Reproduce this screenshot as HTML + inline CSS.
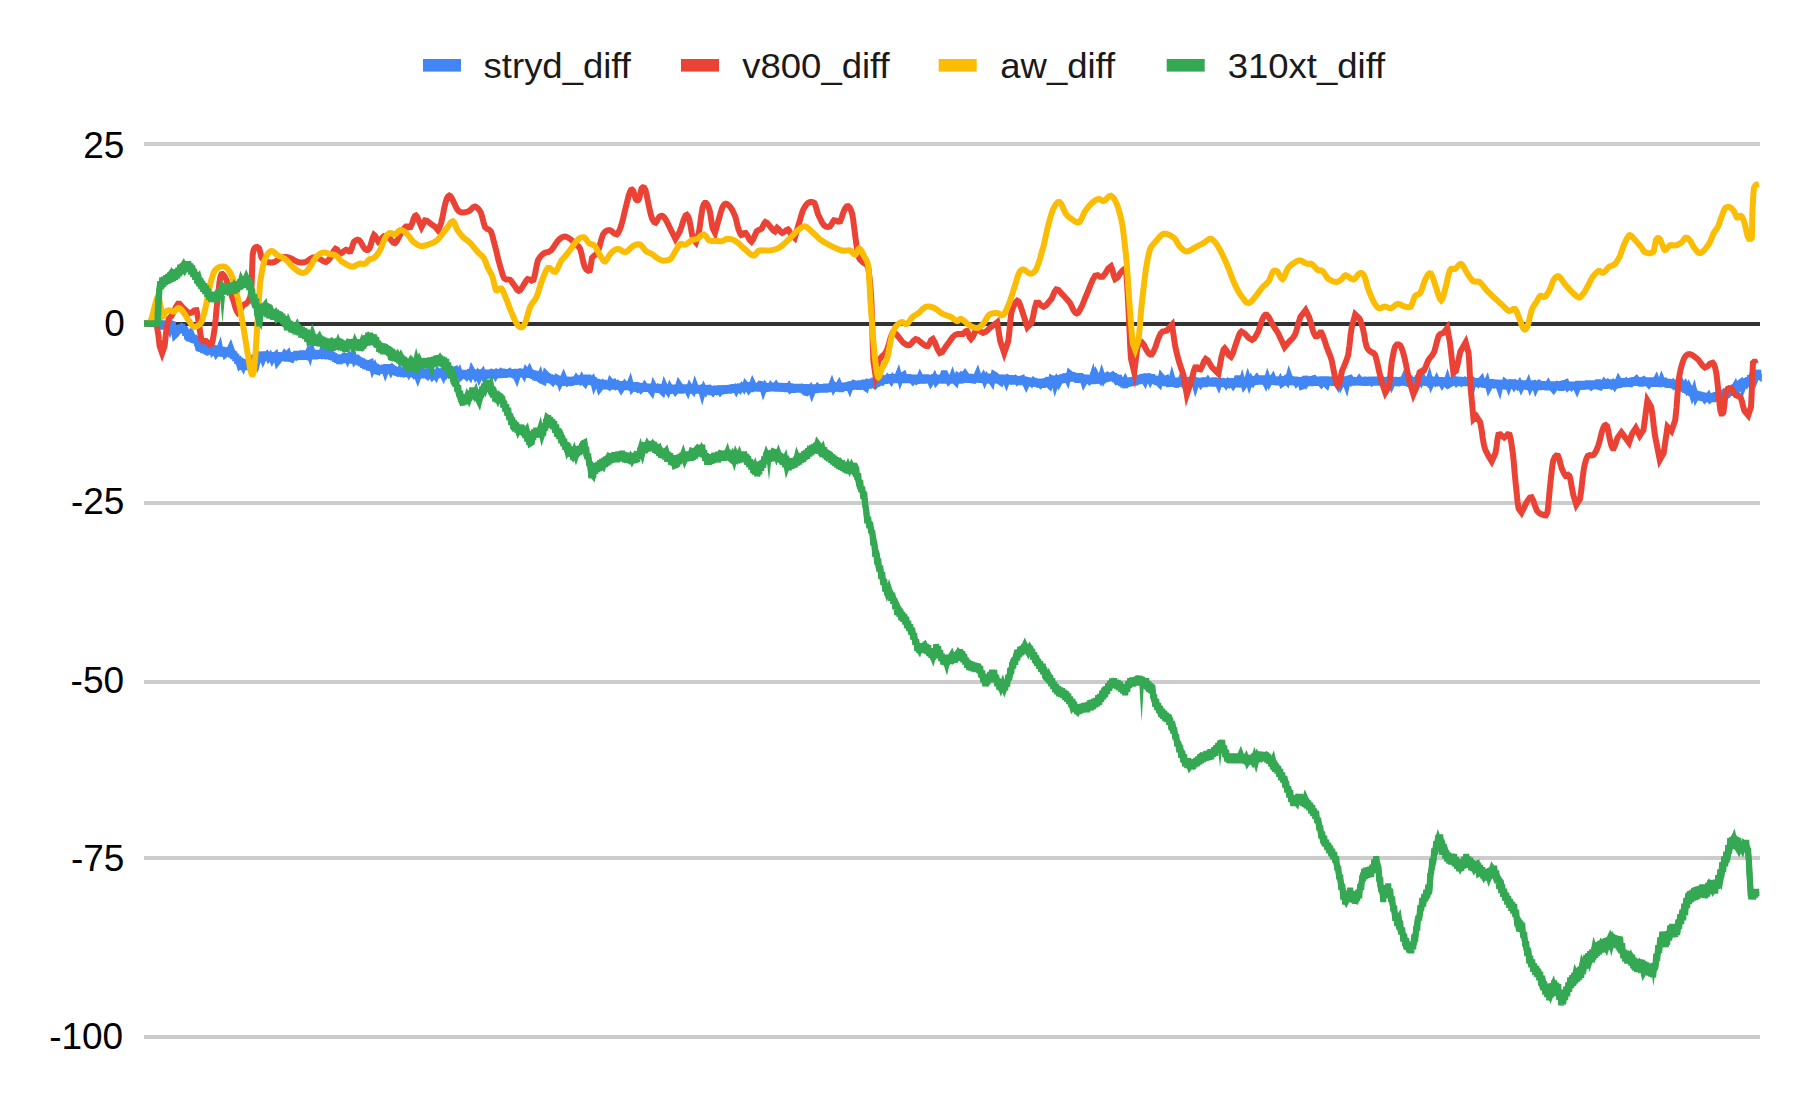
<!DOCTYPE html>
<html><head><meta charset="utf-8"><title>chart</title>
<style>
html,body{margin:0;padding:0;background:#fff;}
body{width:1794px;height:1093px;overflow:hidden;font-family:"Liberation Sans",sans-serif;}
text{font-family:"Liberation Sans",sans-serif;}
.ax{font-size:37px;fill:#000000;}
.lg{font-size:35.4px;fill:#1a1a1a;}
</style></head><body>
<svg width="1794" height="1093" viewBox="0 0 1794 1093" style="display:block">
<rect x="0" y="0" width="1794" height="1093" fill="#ffffff"/>
<rect x="144" y="142" width="1616" height="4" fill="#cccccc"/>
<rect x="144" y="322" width="1616" height="4" fill="#333333"/>
<rect x="144" y="501" width="1616" height="4" fill="#cccccc"/>
<rect x="144" y="680" width="1616" height="4" fill="#cccccc"/>
<rect x="144" y="856" width="1616" height="4" fill="#cccccc"/>
<rect x="144" y="1035" width="1616" height="4" fill="#cccccc"/>
<text x="124.4" y="158.2" text-anchor="end" class="ax">25</text>
<text x="124.9" y="335.5" text-anchor="end" class="ax">0</text>
<text x="124.4" y="513.9" text-anchor="end" class="ax">-25</text>
<text x="124.1" y="692.6" text-anchor="end" class="ax">-50</text>
<text x="124.4" y="870.8" text-anchor="end" class="ax">-75</text>
<text x="123.2" y="1049" text-anchor="end" class="ax">-100</text>
<rect x="423" y="59" width="38" height="12.6" fill="#4285f4"/>
<text transform="translate(483.6,77.8) scale(1.031,1)" x="0" y="0" class="lg">stryd_diff</text>
<rect x="681" y="59" width="38" height="12.6" fill="#ea4335"/>
<text transform="translate(742.3,77.8) scale(1.031,1)" x="0" y="0" class="lg">v800_diff</text>
<rect x="938.7" y="59" width="38" height="12.6" fill="#fbbc04"/>
<text transform="translate(1000.3,77.8) scale(1.031,1)" x="0" y="0" class="lg">aw_diff</text>
<rect x="1166.7" y="59" width="38" height="12.6" fill="#34a853"/>
<text transform="translate(1227.7,77.8) scale(1.031,1)" x="0" y="0" class="lg">310xt_diff</text>
<polyline fill="none" stroke="#4285f4" stroke-width="6" stroke-linejoin="miter" stroke-miterlimit="1" points="144.2,323.5 145.2,323.5 146.2,323.6 147.2,323.6 148.2,323.7 149.2,323.7 150.2,323.8 151.2,323.8 152.2,323.8 153.2,323.9 154.2,323.9 155.2,324.0 156.2,324.0 157.2,324.2 158.2,324.4 159.2,324.5 160.2,320.3 161.2,329.3 162.2,321.0 163.2,329.1 164.2,321.7 165.2,329.2 166.2,321.9 167.2,329.9 168.2,322.4 169.2,330.2 170.2,323.2 171.2,332.5 172.2,325.0 173.2,334.0 174.2,326.7 175.2,334.5 176.2,326.4 177.2,333.4 178.2,325.5 179.2,332.7 180.2,324.8 181.2,332.4 182.2,324.1 183.2,333.1 184.2,326.4 185.2,335.6 186.2,329.6 187.2,339.3 188.2,332.8 189.2,341.2 190.2,332.8 191.2,341.6 192.2,334.5 193.2,342.6 194.2,335.2 195.2,343.1 196.2,336.2 197.2,346.0 198.2,339.5 199.2,349.0 200.2,342.1 201.2,351.6 202.2,344.7 203.2,352.8 204.2,344.7 205.2,352.7 206.2,345.1 207.2,353.3 208.2,345.1 209.2,353.2 210.2,345.2 211.2,354.2 212.2,345.3 213.2,353.5 214.2,345.6 215.2,354.0 216.2,345.8 217.2,355.3 218.2,346.9 219.2,354.8 220.2,346.8 221.2,355.3 222.2,347.2 223.2,355.2 224.2,347.9 225.2,355.6 226.2,347.6 227.2,356.0 228.2,348.4 229.2,356.3 230.2,348.2 231.2,357.3 232.2,350.0 233.2,359.0 234.2,351.5 235.2,361.0 236.2,354.1 237.2,363.6 238.2,356.4 239.2,365.2 240.2,357.7 241.2,367.1 242.2,359.6 243.2,368.0 244.2,361.3 245.2,369.8 246.2,361.7 247.2,368.8 248.2,359.9 249.2,366.9 250.2,358.2 251.2,365.2 252.2,356.7 253.2,364.1 254.2,354.9 255.2,362.3 256.2,353.4 257.2,360.6 258.2,353.1 259.2,360.4 260.2,352.1 261.2,360.4 262.2,351.9 263.2,360.1 264.2,351.7 265.2,359.7 266.2,351.7 267.2,360.0 268.2,352.3 269.2,359.8 270.2,352.5 271.2,360.2 272.2,352.7 273.2,360.2 274.2,352.7 275.2,360.3 276.2,352.8 277.2,360.7 278.2,352.3 279.2,360.8 280.2,353.1 281.2,360.7 282.2,353.2 283.2,360.8 284.2,352.9 285.2,360.4 286.2,352.1 287.2,361.4 288.2,352.3 289.2,360.1 290.2,352.5 291.2,360.0 292.2,352.4 293.2,360.1 294.2,352.4 295.2,359.9 296.2,351.2 297.2,359.7 298.2,352.0 299.2,359.5 300.2,352.0 301.2,359.3 302.2,350.7 303.2,359.3 304.2,351.3 305.2,359.5 306.2,351.5 307.2,359.1 308.2,350.9 309.2,359.2 310.2,350.3 311.2,358.4 312.2,350.8 313.2,358.4 314.2,350.2 315.2,359.2 316.2,350.1 317.2,358.6 318.2,350.4 319.2,358.7 320.2,350.8 321.2,358.7 322.2,350.9 323.2,358.3 324.2,350.7 325.2,358.4 326.2,351.1 327.2,359.2 328.2,350.8 329.2,358.7 330.2,350.2 331.2,359.8 332.2,352.1 333.2,360.4 334.2,353.5 335.2,361.6 336.2,354.5 337.2,362.6 338.2,354.8 339.2,363.8 340.2,355.3 341.2,363.1 342.2,354.7 343.2,362.9 344.2,354.1 345.2,362.1 346.2,353.7 347.2,362.2 348.2,354.7 349.2,362.6 350.2,354.6 351.2,363.2 352.2,354.9 353.2,363.4 354.2,355.1 355.2,363.0 356.2,354.9 357.2,364.3 358.2,356.9 359.2,365.1 360.2,357.9 361.2,366.1 362.2,358.5 363.2,367.6 364.2,359.9 365.2,368.9 366.2,360.8 367.2,369.3 368.2,362.0 369.2,370.4 370.2,362.9 371.2,370.6 372.2,363.0 373.2,371.3 374.2,363.2 375.2,372.1 376.2,364.1 377.2,372.9 378.2,365.5 379.2,373.5 380.2,366.1 381.2,373.6 382.2,365.7 383.2,373.5 384.2,365.4 385.2,373.0 386.2,364.4 387.2,372.9 388.2,364.4 389.2,372.6 390.2,364.5 391.2,373.6 392.2,365.3 393.2,374.4 394.2,366.5 395.2,374.8 396.2,367.9 397.2,375.6 398.2,368.5 399.2,376.4 400.2,368.2 401.2,376.3 402.2,368.8 403.2,376.8 404.2,369.0 405.2,376.9 406.2,368.8 407.2,376.8 408.2,368.3 409.2,376.6 410.2,368.8 411.2,377.0 412.2,369.5 413.2,377.2 414.2,369.7 415.2,377.7 416.2,369.2 417.2,377.7 418.2,369.8 419.2,377.9 420.2,370.1 421.2,378.2 422.2,369.8 423.2,377.9 424.2,370.0 425.2,378.0 426.2,369.4 427.2,378.0 428.2,370.3 429.2,378.8 430.2,370.2 431.2,377.9 432.2,369.5 433.2,378.2 434.2,370.5 435.2,378.0 436.2,370.0 437.2,377.7 438.2,369.5 439.2,377.0 440.2,368.7 441.2,376.6 442.2,368.6 443.2,376.8 444.2,367.9 445.2,375.9 446.2,367.7 447.2,375.1 448.2,366.9 449.2,376.1 450.2,368.0 451.2,376.9 452.2,368.2 453.2,376.4 454.2,368.1 455.2,376.5 456.2,369.2 457.2,377.3 458.2,369.4 459.2,377.3 460.2,370.1 461.2,378.1 462.2,370.6 463.2,377.9 464.2,370.1 465.2,378.0 466.2,370.2 467.2,377.9 468.2,370.2 469.2,378.2 470.2,369.3 471.2,378.4 472.2,370.3 473.2,379.1 474.2,370.3 475.2,378.0 476.2,369.8 477.2,378.0 478.2,370.6 479.2,378.1 480.2,369.6 481.2,378.3 482.2,370.4 483.2,378.2 484.2,369.9 485.2,378.7 486.2,369.9 487.2,378.1 488.2,370.5 489.2,377.9 490.2,370.4 491.2,378.3 492.2,369.5 493.2,378.2 494.2,369.8 495.2,378.2 496.2,369.5 497.2,378.0 498.2,369.3 499.2,377.8 500.2,369.7 501.2,377.4 502.2,368.9 503.2,377.5 504.2,369.8 505.2,377.3 506.2,369.4 507.2,377.0 508.2,369.5 509.2,377.1 510.2,369.3 511.2,376.9 512.2,369.4 513.2,377.1 514.2,369.5 515.2,377.1 516.2,369.1 517.2,376.6 518.2,369.3 519.2,376.6 520.2,369.3 521.2,376.6 522.2,369.2 523.2,377.0 524.2,369.0 525.2,376.9 526.2,368.9 527.2,376.7 528.2,369.5 529.2,377.6 530.2,369.3 531.2,377.7 532.2,370.3 533.2,378.6 534.2,370.7 535.2,380.0 536.2,371.3 537.2,380.1 538.2,372.1 539.2,380.5 540.2,372.5 541.2,380.6 542.2,373.2 543.2,380.9 544.2,373.1 545.2,381.6 546.2,374.2 547.2,381.9 548.2,373.8 549.2,382.5 550.2,374.5 551.2,383.0 552.2,375.4 553.2,383.2 554.2,375.7 555.2,383.8 556.2,376.0 557.2,384.1 558.2,376.4 559.2,385.1 560.2,376.2 561.2,384.2 562.2,377.0 563.2,385.6 564.2,377.1 565.2,385.0 566.2,377.0 567.2,384.8 568.2,377.1 569.2,385.1 570.2,377.7 571.2,385.5 572.2,377.1 573.2,384.6 574.2,376.8 575.2,384.5 576.2,376.7 577.2,383.9 578.2,376.4 579.2,383.9 580.2,375.6 581.2,383.5 582.2,375.8 583.2,383.6 584.2,375.3 585.2,383.5 586.2,374.8 587.2,382.5 588.2,374.9 589.2,382.9 590.2,376.1 591.2,384.6 592.2,376.3 593.2,385.2 594.2,377.7 595.2,386.4 596.2,379.1 597.2,387.9 598.2,379.9 599.2,388.4 600.2,379.9 601.2,388.1 602.2,380.6 603.2,389.1 604.2,380.1 605.2,388.8 606.2,380.8 607.2,389.1 608.2,381.2 609.2,388.6 610.2,381.0 611.2,389.0 612.2,380.7 613.2,389.3 614.2,380.9 615.2,389.1 616.2,381.1 617.2,389.5 618.2,381.7 619.2,389.0 620.2,381.6 621.2,389.9 622.2,381.4 623.2,389.2 624.2,382.0 625.2,389.5 626.2,382.2 627.2,389.8 628.2,381.9 629.2,389.7 630.2,382.4 631.2,390.1 632.2,382.6 633.2,391.3 634.2,382.4 635.2,390.2 636.2,382.3 637.2,390.5 638.2,383.2 639.2,391.2 640.2,383.3 641.2,390.9 642.2,383.4 643.2,391.3 644.2,383.8 645.2,391.6 646.2,384.0 647.2,391.4 648.2,383.9 649.2,391.7 650.2,384.1 651.2,392.4 652.2,384.5 653.2,392.3 654.2,384.3 655.2,392.2 656.2,384.8 657.2,392.4 658.2,384.9 659.2,392.6 660.2,384.0 661.2,392.6 662.2,384.6 663.2,392.5 664.2,384.6 665.2,393.6 666.2,384.8 667.2,392.5 668.2,384.9 669.2,393.6 670.2,385.0 671.2,393.0 672.2,384.8 673.2,392.9 674.2,384.9 675.2,392.5 676.2,384.9 677.2,392.9 678.2,384.6 679.2,392.9 680.2,385.1 681.2,393.5 682.2,385.1 683.2,392.4 684.2,384.6 685.2,392.4 686.2,384.8 687.2,392.5 688.2,385.0 689.2,392.9 690.2,385.0 691.2,393.5 692.2,384.6 693.2,392.7 694.2,385.4 695.2,393.0 696.2,385.0 697.2,393.3 698.2,385.4 699.2,393.3 700.2,385.5 701.2,393.5 702.2,385.3 703.2,393.2 704.2,385.7 705.2,393.7 706.2,386.2 707.2,393.6 708.2,385.5 709.2,394.1 710.2,386.1 711.2,394.8 712.2,386.5 713.2,394.1 714.2,386.3 715.2,393.9 716.2,385.8 717.2,394.7 718.2,385.8 719.2,394.2 720.2,385.6 721.2,394.2 722.2,385.5 723.2,393.4 724.2,385.9 725.2,393.2 726.2,385.6 727.2,393.3 728.2,385.5 729.2,393.3 730.2,385.2 731.2,392.5 732.2,384.8 733.2,392.3 734.2,384.4 735.2,392.0 736.2,384.4 737.2,392.5 738.2,384.1 739.2,391.6 740.2,384.0 741.2,391.7 742.2,383.6 743.2,391.3 744.2,383.7 745.2,391.2 746.2,383.4 747.2,391.9 748.2,383.3 749.2,390.9 750.2,382.4 751.2,391.8 752.2,383.4 753.2,391.0 754.2,383.6 755.2,391.1 756.2,383.6 757.2,391.1 758.2,383.7 759.2,391.3 760.2,382.8 761.2,391.3 762.2,383.7 763.2,391.4 764.2,383.2 765.2,391.2 766.2,383.4 767.2,391.2 768.2,383.3 769.2,391.1 770.2,383.4 771.2,391.0 772.2,383.0 773.2,390.9 774.2,383.5 775.2,391.2 776.2,383.7 777.2,391.4 778.2,383.4 779.2,391.4 780.2,383.0 781.2,391.5 782.2,384.0 783.2,391.4 784.2,383.4 785.2,391.6 786.2,383.8 787.2,391.9 788.2,384.4 789.2,391.6 790.2,383.6 791.2,392.5 792.2,384.1 793.2,392.7 794.2,384.3 795.2,392.0 796.2,384.6 797.2,392.2 798.2,384.1 799.2,392.2 800.2,384.2 801.2,392.5 802.2,384.6 803.2,393.0 804.2,384.6 805.2,392.5 806.2,384.3 807.2,392.6 808.2,385.0 809.2,393.4 810.2,384.8 811.2,392.6 812.2,384.8 813.2,392.5 814.2,384.5 815.2,392.8 816.2,384.8 817.2,392.3 818.2,384.3 819.2,392.2 820.2,384.6 821.2,392.3 822.2,384.7 823.2,392.0 824.2,384.5 825.2,392.3 826.2,383.8 827.2,391.9 828.2,384.0 829.2,391.9 830.2,384.3 831.2,391.8 832.2,383.4 833.2,391.5 834.2,384.0 835.2,391.3 836.2,383.2 837.2,391.1 838.2,383.5 839.2,391.1 840.2,383.1 841.2,391.8 842.2,383.4 843.2,390.6 844.2,382.9 845.2,390.7 846.2,382.8 847.2,390.3 848.2,382.4 849.2,390.5 850.2,382.0 851.2,389.5 852.2,381.7 853.2,389.3 854.2,381.7 855.2,389.2 856.2,381.4 857.2,389.5 858.2,381.0 859.2,389.6 860.2,380.7 861.2,388.1 862.2,380.7 863.2,388.4 864.2,379.9 865.2,388.6 866.2,380.0 867.2,387.7 868.2,379.7 869.2,388.4 870.2,379.6 871.2,386.8 872.2,378.8 873.2,386.4 874.2,377.9 875.2,386.3 876.2,378.1 877.2,386.5 878.2,377.4 879.2,384.9 880.2,376.8 881.2,385.3 882.2,376.8 883.2,383.8 884.2,376.0 885.2,383.6 886.2,375.5 887.2,383.0 888.2,375.3 889.2,382.3 890.2,374.7 891.2,382.4 892.2,374.5 893.2,382.0 894.2,374.5 895.2,382.1 896.2,374.3 897.2,382.8 898.2,374.7 899.2,382.6 900.2,374.4 901.2,382.3 902.2,374.2 903.2,383.0 904.2,374.9 905.2,382.7 906.2,375.0 907.2,382.4 908.2,374.4 909.2,382.8 910.2,375.2 911.2,382.6 912.2,375.1 913.2,382.5 914.2,375.0 915.2,382.7 916.2,375.3 917.2,383.6 918.2,375.2 919.2,383.0 920.2,374.8 921.2,382.8 922.2,375.4 923.2,383.5 924.2,375.4 925.2,383.1 926.2,374.7 927.2,382.8 928.2,375.0 929.2,383.2 930.2,375.6 931.2,382.9 932.2,375.6 933.2,383.4 934.2,374.4 935.2,383.1 936.2,375.3 937.2,383.0 938.2,375.0 939.2,382.9 940.2,375.2 941.2,382.8 942.2,375.2 943.2,383.4 944.2,375.0 945.2,383.3 946.2,375.0 947.2,382.8 948.2,375.1 949.2,382.9 950.2,375.2 951.2,382.6 952.2,374.9 953.2,383.1 954.2,375.1 955.2,382.5 956.2,374.4 957.2,382.4 958.2,374.4 959.2,383.4 960.2,373.9 961.2,383.1 962.2,374.9 963.2,382.3 964.2,374.4 965.2,382.4 966.2,374.7 967.2,382.5 968.2,374.7 969.2,382.5 970.2,374.2 971.2,382.4 972.2,374.7 973.2,382.9 974.2,374.6 975.2,382.2 976.2,374.6 977.2,382.4 978.2,374.4 979.2,382.3 980.2,374.9 981.2,382.5 982.2,375.0 983.2,382.6 984.2,374.4 985.2,383.1 986.2,374.7 987.2,382.5 988.2,373.9 989.2,383.3 990.2,374.8 991.2,382.4 992.2,375.0 993.2,383.1 994.2,375.0 995.2,382.5 996.2,374.4 997.2,382.7 998.2,374.8 999.2,383.5 1000.2,375.0 1001.2,382.8 1002.2,375.2 1003.2,382.9 1004.2,374.9 1005.2,382.9 1006.2,375.1 1007.2,383.0 1008.2,375.3 1009.2,383.3 1010.2,375.6 1011.2,383.8 1012.2,375.6 1013.2,383.2 1014.2,375.5 1015.2,383.8 1016.2,376.3 1017.2,384.2 1018.2,376.4 1019.2,384.2 1020.2,376.9 1021.2,384.9 1022.2,376.9 1023.2,384.8 1024.2,377.0 1025.2,384.8 1026.2,377.5 1027.2,385.3 1028.2,377.8 1029.2,385.6 1030.2,378.0 1031.2,386.1 1032.2,378.3 1033.2,385.9 1034.2,378.2 1035.2,386.5 1036.2,378.9 1037.2,386.5 1038.2,378.9 1039.2,387.3 1040.2,379.2 1041.2,387.1 1042.2,379.1 1043.2,387.7 1044.2,378.9 1045.2,386.7 1046.2,378.4 1047.2,386.1 1048.2,377.2 1049.2,386.6 1050.2,377.7 1051.2,385.2 1052.2,377.5 1053.2,384.8 1054.2,376.0 1055.2,384.1 1056.2,375.9 1057.2,384.1 1058.2,375.4 1059.2,383.8 1060.2,375.6 1061.2,382.9 1062.2,374.7 1063.2,382.4 1064.2,374.2 1065.2,382.7 1066.2,373.8 1067.2,381.7 1068.2,373.5 1069.2,381.3 1070.2,373.1 1071.2,380.8 1072.2,372.3 1073.2,380.9 1074.2,373.2 1075.2,381.4 1076.2,373.6 1077.2,382.6 1078.2,374.2 1079.2,381.9 1080.2,373.3 1081.2,382.4 1082.2,374.7 1083.2,382.3 1084.2,374.8 1085.2,382.8 1086.2,374.9 1087.2,383.3 1088.2,375.7 1089.2,383.4 1090.2,376.0 1091.2,383.8 1092.2,375.6 1093.2,384.0 1094.2,375.9 1095.2,383.4 1096.2,375.7 1097.2,383.3 1098.2,375.0 1099.2,382.6 1100.2,374.9 1101.2,382.5 1102.2,374.7 1103.2,382.9 1104.2,373.9 1105.2,381.8 1106.2,374.2 1107.2,381.4 1108.2,373.8 1109.2,381.2 1110.2,373.1 1111.2,381.0 1112.2,373.0 1113.2,380.8 1114.2,373.4 1115.2,382.2 1116.2,374.7 1117.2,383.6 1118.2,376.2 1119.2,384.7 1120.2,377.4 1121.2,386.0 1122.2,379.0 1123.2,387.3 1124.2,380.2 1125.2,388.0 1126.2,379.4 1127.2,386.6 1128.2,378.8 1129.2,386.0 1130.2,378.1 1131.2,385.8 1132.2,377.4 1133.2,385.1 1134.2,377.2 1135.2,384.2 1136.2,376.6 1137.2,383.8 1138.2,376.0 1139.2,383.9 1140.2,375.4 1141.2,382.4 1142.2,374.5 1143.2,381.9 1144.2,374.1 1145.2,381.6 1146.2,373.5 1147.2,383.2 1148.2,374.8 1149.2,383.2 1150.2,374.8 1151.2,384.0 1152.2,374.4 1153.2,383.2 1154.2,375.8 1155.2,383.7 1156.2,376.2 1157.2,385.0 1158.2,376.5 1159.2,384.5 1160.2,377.3 1161.2,385.0 1162.2,377.4 1163.2,385.3 1164.2,378.0 1165.2,385.8 1166.2,377.3 1167.2,385.6 1168.2,378.3 1169.2,386.0 1170.2,378.0 1171.2,385.6 1172.2,378.1 1173.2,385.7 1174.2,377.8 1175.2,386.6 1176.2,377.9 1177.2,386.6 1178.2,378.0 1179.2,386.4 1180.2,377.9 1181.2,386.0 1182.2,378.1 1183.2,386.0 1184.2,378.0 1185.2,386.1 1186.2,377.5 1187.2,386.1 1188.2,377.2 1189.2,386.6 1190.2,378.1 1191.2,386.0 1192.2,378.3 1193.2,386.0 1194.2,377.7 1195.2,385.6 1196.2,377.9 1197.2,386.3 1198.2,378.1 1199.2,385.8 1200.2,378.5 1201.2,385.8 1202.2,378.4 1203.2,386.1 1204.2,377.6 1205.2,386.9 1206.2,378.0 1207.2,386.2 1208.2,378.6 1209.2,385.9 1210.2,378.4 1211.2,386.0 1212.2,378.4 1213.2,386.3 1214.2,377.7 1215.2,386.1 1216.2,378.6 1217.2,386.3 1218.2,378.8 1219.2,386.2 1220.2,378.5 1221.2,386.2 1222.2,378.6 1223.2,386.5 1224.2,378.9 1225.2,386.9 1226.2,378.8 1227.2,386.5 1228.2,378.7 1229.2,386.8 1230.2,378.4 1231.2,387.3 1232.2,379.2 1233.2,386.7 1234.2,378.7 1235.2,386.9 1236.2,378.7 1237.2,387.2 1238.2,379.1 1239.2,386.8 1240.2,378.6 1241.2,386.4 1242.2,378.6 1243.2,386.2 1244.2,378.4 1245.2,386.2 1246.2,377.7 1247.2,385.8 1248.2,378.1 1249.2,386.3 1250.2,377.3 1251.2,385.1 1252.2,377.3 1253.2,384.8 1254.2,376.5 1255.2,384.7 1256.2,376.4 1257.2,384.1 1258.2,376.5 1259.2,383.9 1260.2,376.2 1261.2,384.3 1262.2,375.7 1263.2,383.7 1264.2,376.4 1265.2,384.0 1266.2,376.4 1267.2,384.2 1268.2,375.6 1269.2,384.1 1270.2,376.5 1271.2,384.6 1272.2,375.7 1273.2,384.0 1274.2,376.7 1275.2,384.5 1276.2,376.8 1277.2,384.6 1278.2,376.8 1279.2,384.3 1280.2,376.9 1281.2,384.3 1282.2,376.5 1283.2,384.9 1284.2,376.7 1285.2,385.1 1286.2,377.0 1287.2,384.7 1288.2,376.6 1289.2,384.5 1290.2,377.0 1291.2,385.0 1292.2,377.1 1293.2,385.1 1294.2,376.9 1295.2,384.6 1296.2,377.2 1297.2,384.6 1298.2,377.3 1299.2,384.9 1300.2,377.4 1301.2,385.8 1302.2,377.4 1303.2,385.1 1304.2,377.1 1305.2,384.9 1306.2,377.4 1307.2,385.7 1308.2,376.9 1309.2,385.2 1310.2,376.8 1311.2,385.9 1312.2,376.6 1313.2,384.9 1314.2,377.2 1315.2,385.7 1316.2,376.8 1317.2,385.0 1318.2,377.2 1319.2,384.9 1320.2,377.4 1321.2,385.4 1322.2,376.6 1323.2,385.3 1324.2,377.5 1325.2,384.9 1326.2,376.7 1327.2,385.5 1328.2,377.4 1329.2,385.0 1330.2,377.5 1331.2,384.8 1332.2,377.3 1333.2,385.5 1334.2,377.3 1335.2,385.6 1336.2,377.0 1337.2,385.1 1338.2,377.0 1339.2,385.5 1340.2,377.2 1341.2,385.8 1342.2,376.7 1343.2,385.2 1344.2,376.6 1345.2,385.4 1346.2,377.3 1347.2,385.0 1348.2,377.5 1349.2,384.9 1350.2,377.1 1351.2,385.5 1352.2,377.0 1353.2,385.5 1354.2,377.3 1355.2,385.1 1356.2,377.4 1357.2,384.9 1358.2,377.6 1359.2,385.1 1360.2,377.4 1361.2,385.3 1362.2,377.2 1363.2,384.9 1364.2,377.4 1365.2,385.6 1366.2,377.3 1367.2,385.1 1368.2,377.0 1369.2,384.9 1370.2,377.2 1371.2,385.4 1372.2,377.1 1373.2,384.9 1374.2,376.8 1375.2,385.1 1376.2,377.2 1377.2,385.4 1378.2,377.3 1379.2,384.9 1380.2,377.5 1381.2,385.0 1382.2,377.5 1383.2,385.1 1384.2,377.3 1385.2,384.8 1386.2,377.5 1387.2,386.1 1388.2,377.0 1389.2,384.8 1390.2,376.7 1391.2,384.8 1392.2,377.4 1393.2,385.3 1394.2,377.1 1395.2,385.6 1396.2,377.5 1397.2,386.0 1398.2,377.5 1399.2,385.1 1400.2,377.4 1401.2,385.4 1402.2,377.1 1403.2,385.3 1404.2,376.8 1405.2,385.2 1406.2,377.3 1407.2,385.6 1408.2,377.3 1409.2,385.1 1410.2,377.2 1411.2,385.1 1412.2,377.4 1413.2,384.9 1414.2,377.5 1415.2,384.9 1416.2,377.5 1417.2,385.2 1418.2,377.1 1419.2,385.1 1420.2,376.8 1421.2,385.5 1422.2,377.5 1423.2,385.4 1424.2,376.8 1425.2,385.0 1426.2,377.6 1427.2,385.5 1428.2,377.3 1429.2,385.2 1430.2,377.1 1431.2,385.6 1432.2,377.2 1433.2,385.5 1434.2,377.4 1435.2,385.3 1436.2,377.6 1437.2,385.5 1438.2,377.3 1439.2,385.3 1440.2,377.4 1441.2,385.1 1442.2,377.6 1443.2,385.3 1444.2,377.5 1445.2,385.9 1446.2,377.6 1447.2,385.2 1448.2,377.8 1449.2,385.4 1450.2,377.5 1451.2,385.0 1452.2,377.6 1453.2,385.3 1454.2,377.0 1455.2,385.2 1456.2,376.8 1457.2,385.8 1458.2,377.5 1459.2,385.4 1460.2,377.0 1461.2,385.2 1462.2,377.8 1463.2,385.6 1464.2,377.7 1465.2,385.9 1466.2,377.8 1467.2,385.6 1468.2,378.1 1469.2,385.6 1470.2,377.6 1471.2,386.2 1472.2,378.3 1473.2,386.3 1474.2,378.3 1475.2,386.3 1476.2,378.4 1477.2,386.6 1478.2,378.3 1479.2,386.7 1480.2,378.6 1481.2,386.6 1482.2,378.5 1483.2,386.9 1484.2,379.1 1485.2,386.8 1486.2,379.3 1487.2,387.8 1488.2,379.5 1489.2,387.7 1490.2,379.4 1491.2,387.7 1492.2,379.6 1493.2,387.7 1494.2,379.8 1495.2,388.0 1496.2,379.8 1497.2,387.8 1498.2,380.2 1499.2,388.4 1500.2,380.2 1501.2,388.0 1502.2,380.1 1503.2,388.1 1504.2,380.3 1505.2,388.3 1506.2,380.2 1507.2,389.0 1508.2,380.5 1509.2,388.7 1510.2,380.8 1511.2,388.7 1512.2,379.7 1513.2,388.3 1514.2,380.5 1515.2,388.5 1516.2,380.7 1517.2,389.2 1518.2,380.7 1519.2,388.7 1520.2,380.8 1521.2,389.0 1522.2,380.7 1523.2,388.9 1524.2,380.8 1525.2,388.8 1526.2,381.3 1527.2,389.4 1528.2,380.7 1529.2,389.6 1530.2,381.6 1531.2,389.8 1532.2,381.2 1533.2,389.7 1534.2,380.9 1535.2,390.2 1536.2,382.0 1537.2,389.4 1538.2,382.0 1539.2,389.8 1540.2,381.6 1541.2,389.3 1542.2,381.4 1543.2,389.7 1544.2,381.9 1545.2,389.6 1546.2,382.0 1547.2,390.1 1548.2,381.5 1549.2,389.5 1550.2,381.9 1551.2,390.2 1552.2,381.8 1553.2,389.5 1554.2,381.5 1555.2,389.9 1556.2,381.8 1557.2,390.0 1558.2,381.5 1559.2,389.4 1560.2,381.9 1561.2,390.6 1562.2,381.7 1563.2,389.9 1564.2,381.7 1565.2,390.1 1566.2,381.7 1567.2,389.4 1568.2,381.9 1569.2,389.4 1570.2,381.9 1571.2,389.7 1572.2,381.9 1573.2,389.6 1574.2,381.8 1575.2,389.6 1576.2,381.8 1577.2,389.3 1578.2,381.2 1579.2,389.1 1580.2,381.8 1581.2,389.4 1582.2,381.6 1583.2,389.5 1584.2,381.0 1585.2,389.1 1586.2,381.3 1587.2,389.1 1588.2,380.6 1589.2,389.0 1590.2,380.5 1591.2,388.8 1592.2,380.5 1593.2,388.9 1594.2,380.6 1595.2,389.0 1596.2,381.0 1597.2,388.3 1598.2,379.7 1599.2,388.2 1600.2,380.7 1601.2,388.3 1602.2,380.5 1603.2,388.1 1604.2,380.6 1605.2,388.7 1606.2,380.4 1607.2,388.0 1608.2,379.7 1609.2,388.1 1610.2,379.9 1611.2,388.4 1612.2,379.6 1613.2,388.0 1614.2,379.6 1615.2,388.2 1616.2,379.7 1617.2,388.0 1618.2,379.5 1619.2,387.6 1620.2,378.8 1621.2,386.8 1622.2,378.4 1623.2,386.9 1624.2,378.8 1625.2,386.4 1626.2,378.9 1627.2,386.3 1628.2,378.6 1629.2,385.9 1630.2,378.3 1631.2,385.7 1632.2,377.8 1633.2,385.5 1634.2,377.3 1635.2,385.7 1636.2,377.3 1637.2,385.5 1638.2,377.7 1639.2,385.6 1640.2,377.8 1641.2,386.3 1642.2,377.9 1643.2,385.9 1644.2,378.1 1645.2,385.5 1646.2,377.8 1647.2,386.0 1648.2,377.6 1649.2,385.6 1650.2,377.8 1651.2,386.6 1652.2,377.6 1653.2,386.7 1654.2,377.7 1655.2,385.5 1656.2,378.2 1657.2,385.6 1658.2,378.2 1659.2,386.2 1660.2,377.8 1661.2,386.3 1662.2,378.0 1663.2,386.2 1664.2,377.9 1665.2,386.3 1666.2,379.0 1667.2,387.1 1668.2,379.0 1669.2,387.3 1670.2,379.8 1671.2,387.7 1672.2,380.1 1673.2,388.2 1674.2,380.4 1675.2,388.2 1676.2,379.9 1677.2,388.6 1678.2,381.0 1679.2,389.7 1680.2,381.7 1681.2,389.8 1682.2,382.6 1683.2,391.3 1684.2,383.5 1685.2,392.6 1686.2,384.6 1687.2,393.4 1688.2,386.1 1689.2,394.8 1690.2,387.4 1691.2,395.8 1692.2,388.8 1693.2,396.9 1694.2,389.7 1695.2,398.5 1696.2,391.1 1697.2,399.8 1698.2,391.5 1699.2,399.9 1700.2,392.0 1701.2,400.4 1702.2,392.7 1703.2,401.0 1704.2,393.2 1705.2,401.1 1706.2,393.5 1707.2,401.7 1708.2,394.2 1709.2,401.9 1710.2,394.4 1711.2,401.5 1712.2,393.8 1713.2,401.9 1714.2,393.1 1715.2,400.7 1716.2,392.4 1717.2,400.5 1718.2,391.9 1719.2,399.3 1720.2,391.5 1721.2,399.1 1722.2,390.9 1723.2,398.5 1724.2,389.8 1725.2,398.4 1726.2,389.4 1727.2,397.1 1728.2,388.8 1729.2,395.6 1730.2,387.4 1731.2,394.8 1732.2,385.9 1733.2,393.2 1734.2,384.5 1735.2,391.6 1736.2,382.7 1737.2,390.9 1738.2,381.8 1739.2,389.1 1740.2,381.3 1741.2,388.4 1742.2,380.5 1743.2,387.8 1744.2,379.8 1745.2,386.8 1746.2,378.3 1747.2,385.9 1748.2,377.4 1749.2,385.2 1750.2,375.1 1751.2,382.6 1752.2,373.6 1753.2,379.8 1754.2,371.5 1755.2,378.9 1756.2,371.1 1757.2,378.5 1758.2,369.9 1758.8,378.1"/>
<polyline fill="none" stroke="#4285f4" stroke-width="6" stroke-linejoin="miter" stroke-miterlimit="4" points="144.2,323.5 146.0,323.6 147.8,323.7 149.6,323.7 151.4,323.8 153.2,323.9 155.0,324.0 156.8,324.1 158.6,324.4 160.4,325.1 162.2,325.0 164.0,323.5 165.8,323.5 167.6,326.1 169.4,329.9 171.2,323.1 173.0,323.8 174.8,335.9 176.6,334.2 178.4,331.1 180.2,329.7 182.0,327.0 183.8,328.9 185.6,329.4 187.4,336.9 189.2,336.5 191.0,332.7 192.8,337.2 194.6,337.8 196.4,339.1 198.2,348.6 200.0,349.0 201.8,342.6 203.6,349.9 205.4,351.7 207.2,352.6 209.0,351.4 210.8,344.3 212.6,352.1 214.4,350.3 216.2,354.3 218.0,351.9 219.8,347.1 221.6,356.2 223.4,348.5 225.2,354.9 227.0,353.3 228.8,351.0 230.6,346.9 232.4,352.1 234.2,353.8 236.0,357.5 237.8,359.2 239.6,365.9 241.4,364.1 243.2,367.5 245.0,362.7 246.8,363.8 248.6,366.1 250.4,364.8 252.2,362.7 254.0,358.3 255.8,355.3 257.6,361.7 259.4,354.8 261.2,355.3 263.0,360.1 264.8,356.0 266.6,354.3 268.4,358.3 270.2,355.7 272.0,359.9 273.8,356.3 275.6,354.6 277.4,362.6 279.2,360.3 281.0,357.3 282.8,356.5 284.6,353.2 286.4,355.1 288.2,353.1 290.0,358.7 291.8,359.5 293.6,355.3 295.4,354.7 297.2,357.0 299.0,355.8 300.8,357.1 302.6,356.9 304.4,356.5 306.2,356.9 308.0,352.4 309.8,356.7 311.6,349.3 313.4,354.7 315.2,353.5 317.0,355.3 318.8,353.9 320.6,355.1 322.4,349.8 324.2,353.3 326.0,352.7 327.8,355.8 329.6,355.5 331.4,354.5 333.2,355.2 335.0,355.6 336.8,358.1 338.6,360.5 340.4,361.0 342.2,358.3 344.0,355.6 345.8,355.8 347.6,360.0 349.4,355.7 351.2,357.8 353.0,353.3 354.8,361.5 356.6,359.7 358.4,358.9 360.2,361.1 362.0,364.2 363.8,363.4 365.6,365.3 367.4,365.6 369.2,363.0 371.0,362.2 372.8,369.9 374.6,366.5 376.4,371.6 378.2,372.1 380.0,368.4 381.8,367.6 383.6,367.6 385.4,373.0 387.2,368.5 389.0,367.7 390.8,371.5 392.6,367.5 394.4,369.2 396.2,370.0 398.0,372.1 399.8,369.2 401.6,370.9 403.4,373.0 405.2,370.0 407.0,369.9 408.8,373.7 410.6,370.1 412.4,372.5 414.2,375.3 416.0,373.7 417.8,378.5 419.6,373.7 421.4,370.1 423.2,375.0 425.0,374.7 426.8,376.1 428.6,370.3 430.4,373.8 432.2,377.0 434.0,374.7 435.8,377.0 437.6,371.7 439.4,374.3 441.2,372.7 443.0,376.2 444.8,369.2 446.6,374.4 448.4,372.0 450.2,372.0 452.0,370.5 453.8,369.7 455.6,369.0 457.4,374.0 459.2,371.1 461.0,377.0 462.8,375.3 464.6,375.4 466.4,377.1 468.2,373.9 470.0,376.5 471.8,369.7 473.6,372.9 475.4,376.7 477.2,373.8 479.0,378.4 480.8,374.4 482.6,372.0 484.4,377.8 486.2,374.5 488.0,373.6 489.8,374.0 491.6,372.1 493.4,373.1 495.2,376.0 497.0,372.1 498.8,373.3 500.6,371.6 502.4,373.6 504.2,374.8 506.0,374.7 507.8,372.4 509.6,371.3 511.4,373.9 513.2,375.4 515.0,374.7 516.8,378.8 518.6,373.3 520.4,371.5 522.2,372.1 524.0,375.3 525.8,370.3 527.6,372.7 529.4,369.4 531.2,373.5 533.0,376.4 534.8,377.7 536.6,377.1 538.4,378.6 540.2,374.6 542.0,381.1 543.8,381.9 545.6,373.4 547.4,375.2 549.2,380.3 551.0,380.7 552.8,382.6 554.6,380.0 556.4,377.3 558.2,378.3 560.0,384.1 561.8,380.6 563.6,376.3 565.4,380.5 567.2,383.0 569.0,381.4 570.8,383.0 572.6,382.3 574.4,380.8 576.2,377.8 578.0,380.3 579.8,381.7 581.6,378.0 583.4,382.0 585.2,384.0 587.0,380.6 588.8,380.1 590.6,380.2 592.4,378.7 594.2,385.8 596.0,381.8 597.8,381.9 599.6,389.1 601.4,386.8 603.2,383.4 605.0,385.3 606.8,385.6 608.6,386.8 610.4,380.8 612.2,382.9 614.0,382.0 615.8,385.7 617.6,383.8 619.4,386.4 621.2,389.8 623.0,386.9 624.8,383.7 626.6,385.7 628.4,386.8 630.2,382.1 632.0,389.0 633.8,387.0 635.6,388.4 637.4,389.6 639.2,387.6 641.0,390.2 642.8,388.5 644.6,385.2 646.4,387.8 648.2,387.7 650.0,389.9 651.8,392.3 653.6,385.1 655.4,388.6 657.2,387.2 659.0,389.3 660.8,390.8 662.6,392.5 664.4,385.1 666.2,389.2 668.0,391.9 669.8,387.0 671.6,390.5 673.4,389.9 675.2,392.1 677.0,389.8 678.8,383.7 680.6,386.4 682.4,389.0 684.2,388.1 686.0,387.9 687.8,391.6 689.6,386.3 691.4,389.3 693.2,391.3 695.0,384.9 696.8,389.7 698.6,388.8 700.4,388.0 702.2,394.4 704.0,388.1 705.8,391.4 707.6,387.9 709.4,387.7 711.2,390.4 713.0,392.6 714.8,389.9 716.6,391.6 718.4,389.7 720.2,392.4 722.0,390.2 723.8,390.1 725.6,391.0 727.4,390.3 729.2,389.2 731.0,387.9 732.8,389.0 734.6,387.6 736.4,391.1 738.2,387.9 740.0,389.8 741.8,386.4 743.6,388.7 745.4,383.8 747.2,385.8 749.0,390.0 750.8,387.8 752.6,382.5 754.4,386.2 756.2,386.8 758.0,385.6 759.8,383.8 761.6,384.1 763.4,390.9 765.2,386.2 767.0,389.0 768.8,388.6 770.6,385.4 772.4,387.6 774.2,387.4 776.0,384.8 777.8,387.7 779.6,387.5 781.4,388.0 783.2,386.7 785.0,386.6 786.8,387.8 788.6,385.8 790.4,390.1 792.2,388.8 794.0,388.1 795.8,387.5 797.6,389.1 799.4,388.5 801.2,387.4 803.0,390.0 804.8,392.6 806.6,393.1 808.4,390.1 810.2,387.9 812.0,393.7 813.8,389.4 815.6,389.2 817.4,386.7 819.2,388.8 821.0,387.3 822.8,386.9 824.6,388.0 826.4,388.5 828.2,388.2 830.0,388.0 831.8,383.4 833.6,388.8 835.4,385.7 837.2,387.0 839.0,383.7 840.8,388.2 842.6,387.7 844.4,386.0 846.2,385.4 848.0,384.8 849.8,389.2 851.6,384.3 853.4,382.8 855.2,383.6 857.0,385.1 858.8,384.0 860.6,384.3 862.4,385.0 864.2,387.4 866.0,388.6 867.8,382.1 869.6,382.7 871.4,382.3 873.2,385.1 875.0,386.1 876.8,384.1 878.6,380.6 880.4,381.4 882.2,377.8 884.0,379.7 885.8,379.6 887.6,377.1 889.4,378.8 891.2,381.3 893.0,377.3 894.8,379.1 896.6,378.0 898.4,373.5 900.2,380.3 902.0,375.4 903.8,374.3 905.6,379.5 907.4,379.0 909.2,379.9 911.0,379.7 912.8,381.8 914.6,379.6 916.4,381.5 918.2,380.3 920.0,375.8 921.8,379.5 923.6,380.3 925.4,380.0 927.2,379.2 929.0,379.0 930.8,383.2 932.6,380.4 934.4,377.0 936.2,382.2 938.0,380.0 939.8,379.5 941.6,378.9 943.4,373.2 945.2,373.2 947.0,377.4 948.8,381.8 950.6,380.2 952.4,375.3 954.2,380.8 956.0,382.6 957.8,375.5 959.6,376.7 961.4,374.7 963.2,375.8 965.0,373.3 966.8,375.9 968.6,378.8 970.4,378.7 972.2,380.3 974.0,380.6 975.8,377.3 977.6,373.0 979.4,378.8 981.2,378.6 983.0,375.9 984.8,381.1 986.6,377.1 988.4,379.9 990.2,379.9 992.0,382.6 993.8,374.0 995.6,375.1 997.4,377.6 999.2,381.5 1001.0,382.8 1002.8,378.2 1004.6,378.8 1006.4,383.2 1008.2,378.2 1010.0,379.6 1011.8,381.7 1013.6,381.4 1015.4,379.1 1017.2,381.9 1019.0,380.0 1020.8,378.7 1022.6,378.0 1024.4,381.9 1026.2,385.8 1028.0,381.7 1029.8,381.6 1031.6,383.5 1033.4,380.5 1035.2,382.3 1037.0,383.9 1038.8,383.2 1040.6,385.4 1042.4,383.7 1044.2,382.0 1046.0,383.9 1047.8,384.2 1049.6,385.9 1051.4,378.2 1053.2,379.3 1055.0,386.2 1056.8,380.5 1058.6,383.9 1060.4,380.3 1062.2,377.5 1064.0,376.4 1065.8,376.5 1067.6,380.3 1069.4,373.0 1071.2,374.5 1073.0,378.1 1074.8,377.8 1076.6,376.2 1078.4,376.5 1080.2,376.1 1082.0,377.3 1083.8,383.3 1085.6,380.0 1087.4,380.2 1089.2,381.7 1091.0,379.6 1092.8,374.3 1094.6,383.2 1096.4,374.8 1098.2,378.3 1100.0,380.4 1101.8,374.0 1103.6,379.4 1105.4,375.9 1107.2,374.9 1109.0,376.9 1110.8,375.5 1112.6,374.5 1114.4,376.7 1116.2,380.5 1118.0,378.7 1119.8,378.0 1121.6,381.6 1123.4,382.6 1125.2,379.3 1127.0,383.0 1128.8,381.2 1130.6,382.6 1132.4,381.3 1134.2,380.7 1136.0,378.3 1137.8,381.8 1139.6,380.7 1141.4,380.1 1143.2,379.4 1145.0,382.3 1146.8,377.3 1148.6,376.6 1150.4,381.1 1152.2,377.5 1154.0,378.4 1155.8,381.8 1157.6,382.4 1159.4,384.3 1161.2,375.9 1163.0,378.0 1164.8,379.0 1166.6,378.2 1168.4,384.1 1170.2,384.0 1172.0,377.0 1173.8,383.1 1175.6,384.9 1177.4,385.0 1179.2,383.5 1181.0,378.7 1182.8,382.6 1184.6,379.8 1186.4,381.5 1188.2,383.4 1190.0,383.7 1191.8,382.4 1193.6,380.0 1195.4,386.7 1197.2,381.0 1199.0,381.8 1200.8,384.8 1202.6,382.2 1204.4,381.8 1206.2,382.5 1208.0,379.7 1209.8,382.1 1211.6,382.0 1213.4,381.9 1215.2,381.7 1217.0,381.7 1218.8,385.9 1220.6,381.0 1222.4,380.8 1224.2,382.5 1226.0,385.1 1227.8,382.1 1229.6,384.5 1231.4,382.9 1233.2,385.8 1235.0,383.0 1236.8,378.3 1238.6,378.3 1240.4,386.6 1242.2,379.9 1244.0,386.2 1245.8,383.7 1247.6,378.0 1249.4,384.4 1251.2,379.5 1253.0,382.5 1254.8,379.4 1256.6,377.3 1258.4,380.2 1260.2,379.2 1262.0,379.9 1263.8,379.9 1265.6,383.7 1267.4,377.6 1269.2,383.1 1271.0,379.9 1272.8,377.2 1274.6,382.2 1276.4,382.4 1278.2,382.4 1280.0,379.5 1281.8,384.2 1283.6,382.9 1285.4,379.5 1287.2,381.9 1289.0,375.2 1290.8,380.3 1292.6,379.2 1294.4,380.2 1296.2,383.5 1298.0,381.1 1299.8,380.5 1301.6,386.8 1303.4,386.1 1305.2,376.4 1307.0,382.8 1308.8,380.0 1310.6,379.0 1312.4,378.7 1314.2,378.1 1316.0,380.5 1317.8,381.4 1319.6,382.6 1321.4,384.8 1323.2,382.5 1325.0,383.7 1326.8,385.5 1328.6,379.9 1330.4,379.5 1332.2,382.1 1334.0,380.5 1335.8,382.5 1337.6,385.5 1339.4,377.5 1341.2,384.7 1343.0,381.2 1344.8,381.2 1346.6,386.3 1348.4,378.4 1350.2,377.9 1352.0,382.2 1353.8,380.8 1355.6,380.3 1357.4,381.3 1359.2,378.6 1361.0,381.1 1362.8,381.0 1364.6,380.0 1366.4,382.0 1368.2,381.7 1370.0,381.0 1371.8,383.1 1373.6,381.5 1375.4,381.8 1377.2,379.9 1379.0,379.6 1380.8,377.7 1382.6,379.4 1384.4,380.0 1386.2,381.2 1388.0,380.1 1389.8,380.7 1391.6,385.6 1393.4,381.6 1395.2,382.9 1397.0,383.0 1398.8,383.3 1400.6,382.3 1402.4,380.7 1404.2,376.6 1406.0,380.8 1407.8,383.4 1409.6,382.5 1411.4,380.3 1413.2,383.8 1415.0,386.0 1416.8,379.4 1418.6,380.5 1420.4,382.5 1422.2,376.1 1424.0,380.8 1425.8,381.3 1427.6,383.0 1429.4,377.3 1431.2,384.6 1433.0,380.8 1434.8,382.6 1436.6,379.0 1438.4,382.9 1440.2,381.9 1442.0,385.1 1443.8,382.2 1445.6,383.9 1447.4,378.5 1449.2,384.9 1451.0,383.8 1452.8,381.0 1454.6,379.6 1456.4,382.8 1458.2,380.5 1460.0,380.5 1461.8,383.2 1463.6,381.9 1465.4,379.8 1467.2,380.9 1469.0,383.3 1470.8,384.4 1472.6,387.2 1474.4,381.0 1476.2,382.4 1478.0,384.0 1479.8,380.9 1481.6,378.8 1483.4,384.8 1485.2,384.9 1487.0,381.0 1488.8,388.4 1490.6,385.0 1492.4,383.0 1494.2,384.9 1496.0,383.5 1497.8,383.9 1499.6,389.1 1501.4,381.1 1503.2,388.7 1505.0,381.6 1506.8,382.9 1508.6,387.6 1510.4,382.8 1512.2,383.6 1514.0,386.7 1515.8,383.8 1517.6,386.2 1519.4,383.4 1521.2,388.1 1523.0,384.4 1524.8,385.5 1526.6,386.5 1528.4,382.3 1530.2,387.9 1532.0,384.0 1533.8,383.4 1535.6,388.9 1537.4,384.8 1539.2,382.9 1541.0,384.0 1542.8,384.4 1544.6,385.6 1546.4,386.3 1548.2,383.3 1550.0,386.7 1551.8,388.0 1553.6,390.2 1555.4,387.4 1557.2,384.7 1559.0,386.3 1560.8,386.4 1562.6,383.2 1564.4,383.0 1566.2,382.2 1568.0,387.4 1569.8,385.7 1571.6,387.7 1573.4,385.8 1575.2,386.2 1577.0,390.2 1578.8,385.7 1580.6,386.0 1582.4,386.1 1584.2,384.1 1586.0,383.6 1587.8,384.5 1589.6,384.9 1591.4,387.2 1593.2,385.7 1595.0,386.0 1596.8,384.2 1598.6,386.9 1600.4,387.4 1602.2,384.4 1604.0,381.6 1605.8,383.9 1607.6,382.1 1609.4,384.3 1611.2,385.9 1613.0,383.3 1614.8,386.5 1616.6,383.6 1618.4,379.3 1620.2,382.4 1622.0,381.8 1623.8,382.4 1625.6,381.0 1627.4,384.0 1629.2,384.0 1631.0,384.3 1632.8,381.8 1634.6,380.2 1636.4,378.5 1638.2,381.0 1640.0,380.9 1641.8,380.0 1643.6,379.2 1645.4,381.7 1647.2,383.0 1649.0,385.1 1650.8,383.1 1652.6,382.3 1654.4,381.7 1656.2,378.6 1658.0,384.0 1659.8,384.2 1661.6,378.9 1663.4,383.3 1665.2,384.3 1667.0,385.0 1668.8,384.0 1670.6,383.6 1672.4,382.3 1674.2,386.0 1676.0,384.4 1677.8,382.3 1679.6,385.6 1681.4,382.5 1683.2,386.6 1685.0,384.2 1686.8,389.1 1688.6,385.6 1690.4,388.9 1692.2,395.1 1694.0,389.9 1695.8,397.9 1697.6,394.4 1699.4,394.7 1701.2,397.0 1703.0,396.8 1704.8,399.7 1706.6,397.7 1708.4,395.4 1710.2,399.8 1712.0,398.2 1713.8,395.8 1715.6,396.2 1717.4,397.5 1719.2,394.4 1721.0,398.8 1722.8,397.7 1724.6,392.6 1726.4,393.9 1728.2,394.8 1730.0,392.9 1731.8,392.0 1733.6,388.3 1735.4,385.0 1737.2,390.0 1739.0,383.2 1740.8,381.8 1742.6,388.5 1744.4,383.5 1746.2,384.9 1748.0,381.8 1749.8,380.5 1751.6,376.9 1753.4,375.8 1755.2,379.9 1757.0,375.0 1758.8,376.3 1758.8,373.7"/>
<polyline fill="none" stroke="#ea4335" stroke-width="6" stroke-linejoin="miter" stroke-miterlimit="10" points="144.2,323.5 148.1,323.4 151.9,323.2 155.8,323.5 156.2,324.2 156.6,325.2 157.0,327.0 157.5,329.9 158.1,333.5 158.6,337.0 158.9,340.1 159.3,343.2 159.6,346.0 162.1,353.2 164.6,346.0 164.9,343.2 165.2,340.3 165.5,337.0 166.1,333.0 166.6,328.7 167.2,325.0 167.8,322.3 168.4,320.3 169.0,318.5 170.1,317.3 171.1,316.4 172.2,314.7 174.1,311.0 176.1,306.6 178.0,303.7 179.5,303.7 181.0,305.4 182.5,307.3 184.9,309.4 187.4,311.8 189.8,313.2 192.0,312.3 194.2,310.5 196.4,310.3 197.1,312.9 197.9,317.1 198.6,322.0 199.6,328.0 200.5,334.7 201.5,339.6 203.0,341.2 204.4,341.0 205.9,341.0 207.8,342.6 209.8,344.4 211.7,344.0 212.7,340.5 213.7,334.9 214.7,327.8 215.7,318.8 216.6,308.3 217.6,298.6 218.6,290.0 219.5,282.2 220.5,276.6 221.5,274.2 222.5,274.0 223.5,275.0 224.9,276.9 226.4,280.0 227.8,284.0 229.8,289.4 231.7,295.8 233.7,301.5 235.1,306.5 236.6,310.8 238.0,313.0 239.5,311.9 241.0,308.8 242.5,306.0 244.4,304.5 246.4,303.4 248.3,301.5 249.3,299.4 250.3,296.6 251.3,291.0 251.8,279.7 252.2,265.5 252.7,254.6 253.7,249.7 254.7,248.0 255.7,247.3 256.9,246.9 258.1,247.4 259.3,248.8 260.0,251.4 260.8,254.7 261.5,257.6 263.5,259.6 265.4,261.0 267.4,262.0 269.8,262.5 272.3,262.5 274.7,262.0 276.6,260.7 278.6,258.9 280.5,257.6 283.4,257.1 286.4,257.1 289.3,257.6 292.2,258.9 295.1,260.7 298.0,262.0 300.5,262.5 302.9,262.5 305.4,262.0 307.9,260.6 310.3,258.8 312.8,257.6 315.2,257.6 317.6,258.2 320.0,259.0 322.0,260.2 324.0,261.5 326.0,262.0 327.4,261.2 328.9,259.7 330.3,257.6 332.0,254.5 333.8,250.9 335.5,248.8 337.1,249.6 338.6,252.0 340.2,253.4 342.1,252.6 344.1,250.9 346.0,249.8 347.5,250.3 349.0,251.4 350.5,251.2 351.7,248.5 352.8,244.7 354.0,241.7 355.8,240.3 357.5,239.7 359.3,240.3 361.2,242.8 363.1,246.4 365.0,249.0 366.5,249.9 368.0,249.8 369.5,248.3 371.0,244.1 372.5,238.4 374.0,235.0 375.4,236.2 376.9,239.6 378.3,241.7 380.2,240.4 382.1,237.7 384.0,236.0 386.0,236.2 388.0,237.4 390.0,238.8 391.7,240.6 393.3,242.7 395.0,243.2 396.8,241.2 398.5,237.8 400.3,234.4 402.2,231.4 404.1,228.4 406.0,226.4 407.5,226.4 409.0,227.3 410.5,227.0 412.0,223.7 413.5,219.1 415.0,216.0 415.9,215.5 416.9,216.6 417.8,218.3 421.5,227.1 425.0,220.5 427.0,220.9 429.0,222.5 431.0,224.0 432.5,225.0 433.9,226.0 435.4,227.0 438.3,230.6 441.2,222.7 442.7,216.3 444.1,208.5 445.6,202.2 446.8,198.5 448.1,196.4 449.3,195.6 450.5,196.3 451.8,198.3 453.0,200.7 454.4,203.6 455.9,206.9 457.3,209.5 458.8,211.1 460.2,212.0 461.7,212.4 464.1,212.4 466.6,211.8 469.0,211.0 471.0,209.4 473.0,207.4 475.0,206.6 476.9,207.5 478.9,209.4 480.8,212.4 482.2,217.0 483.6,222.6 485.0,227.0 487.0,228.8 489.0,229.5 491.0,231.5 492.5,236.0 493.9,241.7 495.4,247.6 496.9,253.5 498.3,259.5 499.8,265.0 501.3,270.2 502.7,274.9 504.2,278.3 506.1,279.5 508.1,279.4 510.0,279.8 511.5,281.4 512.9,283.6 514.4,285.6 515.9,287.8 517.3,289.9 518.8,290.8 520.3,289.9 521.7,287.8 523.2,285.6 524.7,283.2 526.1,280.7 527.6,279.0 529.6,279.5 531.5,280.7 533.5,279.8 534.9,274.5 536.4,266.9 537.8,260.7 539.8,257.2 541.7,255.1 543.7,253.4 546.1,252.4 548.6,251.8 551.0,250.5 553.4,247.4 555.9,243.5 558.3,240.3 560.3,238.4 562.2,237.2 564.2,236.6 566.1,236.8 568.1,237.6 570.0,238.8 572.0,240.5 573.9,242.6 575.9,244.6 577.3,245.7 578.8,246.6 580.2,249.0 581.7,254.4 583.1,261.3 584.6,266.6 586.3,269.5 588.1,270.8 589.8,270.3 590.5,267.1 591.3,262.1 592.0,257.8 593.9,255.8 595.9,254.6 597.8,252.0 599.5,246.5 601.3,239.7 603.0,234.4 605.2,231.6 607.3,230.3 609.5,230.0 611.9,231.3 614.4,233.6 616.8,234.4 618.3,232.8 619.7,229.7 621.2,225.6 622.7,220.3 624.1,214.1 625.6,208.0 627.1,202.0 628.5,196.2 630.0,192.0 631.0,190.0 632.0,189.7 633.0,190.5 634.0,193.0 634.9,196.6 635.9,199.3 636.9,200.3 637.8,200.3 638.8,199.3 639.8,196.0 640.7,191.4 641.7,188.3 642.9,187.3 644.2,187.7 645.4,189.8 646.6,194.5 647.8,200.8 649.0,206.6 650.0,211.1 651.0,215.1 652.0,218.3 653.2,220.7 654.4,222.3 655.6,222.7 656.8,221.3 658.1,218.7 659.3,216.8 660.8,216.0 662.2,215.8 663.7,216.8 665.6,219.4 667.6,223.1 669.5,227.0 675.4,239.0 679.8,231.5 681.7,226.0 683.7,219.6 685.6,215.4 686.8,214.8 688.1,216.5 689.3,219.8 690.5,225.6 691.8,233.1 693.0,238.8 695.9,242.3 698.8,233.0 700.0,225.1 701.3,215.4 702.5,208.0 703.7,204.4 704.8,203.0 706.0,203.0 707.3,204.4 708.5,207.1 709.8,211.0 710.8,216.6 711.7,223.3 712.7,228.5 715.0,232.9 717.8,222.7 719.3,217.7 720.7,212.3 722.2,208.0 723.4,205.5 724.7,204.1 725.9,203.7 727.6,204.3 729.3,205.9 731.0,208.0 732.5,210.5 733.9,213.5 735.4,216.8 736.4,220.7 737.3,224.9 738.3,228.5 739.3,231.4 740.3,233.7 741.3,235.0 742.7,234.6 744.2,233.2 745.6,233.0 747.6,235.8 749.5,239.8 751.5,241.7 753.2,239.4 754.9,235.1 756.6,231.5 758.3,230.1 760.0,229.5 761.7,228.5 762.9,226.2 764.2,223.4 765.4,222.0 767.1,222.8 768.8,224.9 770.5,227.0 772.0,228.8 773.5,230.6 775.0,231.5 775.7,230.5 776.3,228.7 777.0,227.8 778.7,229.2 780.5,231.6 782.2,233.0 784.1,232.1 786.1,230.2 788.0,229.3 789.0,230.4 790.0,232.5 791.0,234.4 794.7,237.9 798.3,225.6 799.8,220.7 801.2,215.5 802.7,211.0 804.4,207.5 806.2,204.8 807.9,203.0 810.1,202.0 812.2,202.0 814.4,203.0 815.6,205.9 816.8,210.1 818.0,214.2 820.0,218.3 822.0,222.4 824.0,225.3 826.0,226.6 828.0,226.9 830.0,226.3 831.3,224.6 832.7,222.0 834.0,220.3 836.1,220.6 838.1,221.6 840.2,221.3 841.5,218.2 842.9,213.8 844.2,210.2 845.5,207.9 846.9,206.4 848.2,206.2 849.6,207.5 850.9,210.0 852.3,214.2 853.3,220.6 854.3,228.6 855.3,236.4 856.3,243.8 857.3,250.9 858.3,256.5 860.0,259.5 861.6,261.0 863.3,262.5 865.0,263.6 866.7,264.6 868.4,268.6 869.4,276.4 870.4,287.0 871.4,300.8 872.1,320.6 872.7,343.5 873.4,361.2 875.4,374.5 878.4,361.2 879.4,359.2 880.5,358.3 881.5,357.0 883.3,355.2 885.2,353.2 887.0,350.0 888.8,344.3 890.7,337.5 892.5,333.0 894.5,332.7 896.6,334.7 898.6,337.0 900.3,339.0 901.9,341.2 903.6,343.0 905.6,344.3 907.6,345.1 909.6,345.0 911.6,343.2 913.7,340.6 915.7,339.0 917.7,339.6 919.7,341.4 921.7,343.0 923.7,344.4 925.8,345.8 927.8,346.0 929.5,343.6 931.1,340.1 932.8,339.0 935.1,342.9 937.5,349.2 939.8,353.0 942.2,352.0 944.5,348.6 946.9,345.0 949.6,341.5 952.2,337.7 954.9,335.0 957.6,334.1 960.3,334.1 963.0,334.0 964.3,332.7 965.7,331.3 967.0,331.0 968.3,333.5 969.7,337.3 971.0,339.0 973.0,336.5 975.0,332.0 977.0,329.0 979.0,329.7 981.0,331.9 983.0,333.0 985.7,331.7 988.5,329.3 991.2,327.0 997.2,322.2 1000.2,341.0 1004.2,353.1 1008.3,341.0 1009.3,332.2 1010.3,321.7 1011.3,312.9 1013.3,306.9 1015.3,302.8 1017.3,300.8 1018.7,301.6 1020.0,304.6 1021.4,308.8 1027.4,327.2 1031.4,323.0 1033.1,316.6 1034.7,308.3 1036.4,302.8 1038.8,302.8 1041.1,305.5 1043.5,306.8 1046.2,305.1 1048.8,302.0 1051.5,298.8 1053.1,295.2 1054.7,291.5 1056.3,289.4 1058.4,290.0 1060.5,292.2 1062.6,294.7 1065.1,297.2 1067.5,300.0 1070.0,303.0 1071.8,306.5 1073.5,310.2 1075.3,312.6 1076.7,313.4 1078.1,312.9 1079.5,310.5 1082.3,305.3 1085.1,298.2 1087.9,291.5 1090.3,285.4 1092.8,279.6 1095.2,275.7 1097.7,275.2 1100.1,276.7 1102.6,276.8 1105.4,273.3 1108.2,268.5 1111.0,266.3 1112.4,269.6 1113.8,275.5 1115.2,279.0 1117.7,277.3 1120.1,273.2 1122.6,270.5 1123.9,269.5 1125.2,270.0 1126.5,275.0 1127.3,287.2 1128.2,304.0 1129.0,320.0 1129.7,334.4 1130.3,348.1 1131.0,358.9 1134.2,372.2 1137.3,348.4 1138.7,344.3 1140.1,342.2 1141.5,342.0 1144.0,345.0 1146.4,350.0 1148.9,353.6 1150.3,354.6 1151.6,354.6 1153.0,352.6 1155.5,347.0 1158.0,339.4 1160.5,333.6 1162.6,331.5 1164.7,331.1 1166.8,330.5 1172.0,324.8 1175.2,346.2 1176.6,352.3 1178.0,357.9 1179.4,363.0 1180.8,367.3 1182.2,371.2 1183.6,375.7 1186.8,394.6 1191.0,382.0 1192.4,376.6 1193.8,371.0 1195.2,367.3 1197.0,367.2 1198.7,369.0 1200.5,369.4 1202.2,366.1 1204.0,361.5 1205.7,358.9 1207.8,360.4 1209.9,364.0 1212.0,367.3 1218.4,373.6 1221.5,356.8 1222.6,352.8 1223.6,349.6 1224.7,348.4 1226.8,350.9 1228.9,355.2 1231.0,356.8 1233.1,352.8 1235.2,345.9 1237.3,340.0 1238.7,335.9 1240.1,332.8 1241.5,331.5 1245.0,333.7 1248.5,337.8 1252.0,340.0 1254.1,338.6 1256.2,335.3 1258.3,331.5 1259.7,327.3 1261.1,322.6 1262.5,318.9 1263.9,316.3 1265.3,314.7 1266.7,314.7 1268.8,317.2 1270.9,321.3 1273.0,325.2 1274.8,328.0 1276.5,330.5 1278.3,333.6 1284.6,347.1 1288.8,342.0 1290.9,340.0 1293.1,337.7 1295.2,334.3 1296.9,328.9 1298.7,322.3 1300.4,317.0 1305.6,310.2 1309.0,317.0 1310.8,322.6 1312.5,329.3 1314.3,334.3 1315.5,336.2 1316.6,336.4 1317.8,336.0 1319.0,334.6 1320.1,332.6 1321.3,332.6 1323.0,336.0 1324.8,341.2 1326.5,346.5 1328.2,350.9 1330.0,355.3 1331.7,360.4 1333.1,367.5 1334.6,375.3 1336.0,381.2 1336.9,384.3 1337.8,385.5 1338.7,384.7 1339.8,381.4 1340.9,376.2 1342.0,370.8 1344.1,366.1 1346.1,361.2 1348.2,355.0 1349.4,346.1 1350.5,335.9 1351.7,327.3 1355.2,314.5 1359.5,318.6 1360.7,321.3 1361.8,324.8 1363.0,329.0 1364.2,334.8 1365.3,341.3 1366.5,346.5 1367.9,349.2 1369.4,350.6 1370.8,351.7 1372.3,352.5 1373.7,353.2 1375.2,355.0 1376.3,358.9 1377.5,363.9 1378.6,369.0 1379.7,373.8 1380.9,378.7 1382.0,383.0 1385.3,392.7 1389.0,386.4 1389.9,379.3 1390.8,370.1 1391.7,362.0 1392.9,355.6 1394.0,350.3 1395.2,346.5 1396.9,344.6 1398.7,344.6 1400.4,345.6 1401.8,348.6 1403.3,353.2 1404.7,358.6 1406.1,365.2 1407.6,372.7 1409.0,379.5 1413.4,394.3 1416.9,386.4 1417.8,381.8 1418.6,376.5 1419.5,372.5 1420.9,371.4 1422.4,371.6 1423.8,370.8 1425.3,367.9 1426.7,364.1 1428.2,360.4 1430.2,357.6 1432.3,355.1 1434.3,351.7 1435.7,346.5 1437.2,340.6 1438.6,336.0 1440.3,334.0 1442.1,333.4 1443.8,332.6 1447.3,327.9 1450.0,343.0 1453.4,372.9 1456.0,370.8 1457.4,365.3 1458.9,358.0 1460.3,351.7 1465.7,342.3 1468.6,353.0 1469.3,362.9 1469.9,375.4 1470.6,387.6 1473.5,419.1 1476.3,416.3 1480.2,422.2 1481.5,429.1 1482.7,438.0 1484.0,445.3 1485.3,449.7 1486.6,452.5 1487.9,455.0 1491.7,461.3 1495.5,453.0 1496.5,446.9 1497.4,439.6 1498.4,434.7 1500.3,434.3 1502.3,436.3 1504.2,437.6 1506.0,436.3 1507.8,434.3 1509.6,434.7 1510.7,438.8 1511.7,445.2 1512.8,453.0 1513.8,462.5 1514.7,473.4 1515.7,483.7 1516.7,493.2 1517.6,502.1 1518.6,508.7 1521.5,512.7 1526.3,503.0 1528.0,500.1 1529.8,497.6 1531.5,497.2 1533.3,500.6 1535.1,506.1 1536.9,510.6 1538.8,512.8 1540.7,514.0 1542.6,514.5 1544.2,515.3 1545.8,515.4 1547.4,512.5 1548.4,504.7 1549.3,493.9 1550.3,483.7 1551.3,474.9 1552.2,466.8 1553.2,460.7 1554.8,457.1 1556.4,455.5 1558.0,455.9 1559.3,459.0 1560.5,464.0 1561.8,468.4 1563.1,471.6 1564.4,474.2 1565.7,476.0 1567.0,475.8 1568.2,475.0 1569.5,476.0 1570.8,481.4 1572.1,488.9 1573.4,495.3 1576.3,504.8 1580.0,499.0 1581.3,490.0 1582.6,478.2 1583.9,468.4 1585.2,462.5 1586.5,458.5 1587.8,455.9 1589.7,455.1 1591.6,455.5 1593.5,455.0 1595.1,452.7 1596.8,449.4 1598.4,445.3 1600.0,439.5 1601.6,432.9 1603.2,428.0 1604.5,425.5 1605.7,425.0 1607.0,426.0 1608.3,430.8 1609.5,437.8 1610.8,443.4 1611.8,446.5 1612.7,448.2 1613.7,448.2 1615.0,445.6 1616.3,441.3 1617.6,437.6 1621.4,432.3 1625.3,437.6 1629.0,442.8 1632.0,433.8 1635.8,428.0 1639.7,435.7 1643.5,430.0 1647.4,400.5 1651.2,406.9 1652.5,415.0 1653.7,425.6 1655.0,435.7 1659.8,459.9 1663.7,453.0 1667.5,426.8 1671.4,431.0 1675.2,420.3 1676.5,407.7 1677.7,391.6 1679.0,378.0 1680.6,369.4 1682.3,363.3 1683.9,358.8 1685.8,355.7 1687.7,354.3 1689.6,354.0 1692.5,355.1 1695.4,357.3 1698.3,359.8 1700.5,362.7 1702.8,365.8 1705.0,367.5 1707.6,366.2 1710.1,363.6 1712.7,362.7 1714.0,364.4 1715.2,367.9 1716.5,374.2 1717.8,385.8 1719.1,400.2 1720.4,410.7 1721.4,413.6 1722.3,413.6 1723.3,412.6 1724.2,406.6 1725.1,398.0 1726.0,391.5 1727.7,388.8 1729.3,388.2 1731.0,388.6 1732.6,390.3 1734.1,393.1 1735.7,395.3 1737.3,395.9 1739.0,396.0 1740.6,397.3 1741.9,401.2 1743.1,406.5 1744.4,410.7 1748.2,415.3 1751.0,406.9 1751.7,393.1 1752.3,375.4 1753.0,362.7 1754.0,361.7 1755.0,361.7 1756.0,363.6"/>
<polyline fill="none" stroke="#fbbc04" stroke-width="6" stroke-linejoin="miter" stroke-miterlimit="10" points="144.2,323.5 145.7,323.5 147.2,323.5 148.7,323.3 150.2,322.5 150.8,320.9 151.5,318.8 152.2,316.4 152.8,314.0 153.4,311.5 154.1,308.9 154.7,306.3 155.3,304.0 155.9,301.9 156.4,299.9 156.9,298.3 157.5,297.5 158.0,297.6 158.5,298.3 159.0,299.6 159.5,301.0 159.9,302.7 160.2,304.8 160.6,306.9 161.0,309.0 161.4,311.2 161.8,313.5 162.2,315.5 162.6,316.5 163.3,316.1 164.1,314.7 164.8,313.0 165.5,311.8 166.4,311.1 167.4,310.7 168.4,310.4 169.3,310.3 170.4,310.6 171.5,311.1 172.6,311.6 173.7,311.7 175.0,310.9 176.2,309.6 177.5,308.4 178.8,308.0 180.1,308.6 181.4,309.8 182.7,311.4 184.0,313.2 185.4,315.2 186.9,317.6 188.4,320.0 189.8,322.0 190.9,323.8 192.0,325.4 193.1,326.5 194.2,327.0 196.0,326.7 197.8,325.8 199.7,324.3 201.5,322.0 202.6,318.9 203.7,315.0 204.8,310.6 205.9,305.9 207.0,300.6 208.1,294.7 209.2,288.9 210.3,283.9 211.4,279.8 212.5,276.2 213.6,273.2 214.7,270.7 216.5,268.8 218.3,267.5 220.2,266.8 222.0,266.4 223.4,266.4 224.9,266.8 226.4,267.8 227.8,269.3 229.3,271.3 230.8,273.8 232.2,276.9 233.7,281.0 235.2,286.3 236.6,292.6 238.1,299.4 239.6,305.9 240.7,312.1 241.8,318.3 242.9,324.5 244.0,330.8 245.1,337.5 246.2,344.4 247.2,351.1 248.3,357.0 249.1,362.2 249.8,367.0 250.6,370.8 251.3,373.2 252.0,374.2 252.8,374.2 253.5,373.0 254.2,368.8 254.9,361.2 255.7,350.8 256.4,339.1 257.1,327.8 257.8,316.5 258.6,304.8 259.3,293.5 260.0,283.9 261.1,276.3 262.2,270.0 263.3,264.9 264.4,260.5 266.0,256.8 267.7,254.0 269.4,252.1 271.0,251.0 272.6,251.1 274.3,252.4 276.0,254.0 277.6,255.4 279.5,256.2 281.3,256.9 283.1,257.8 285.0,259.0 287.2,260.9 289.4,263.3 291.5,265.7 293.7,267.8 295.9,269.6 298.1,271.2 300.3,272.4 302.5,273.0 304.0,272.9 305.4,272.2 306.9,271.0 308.4,269.3 310.2,266.8 312.0,263.5 313.9,260.3 315.7,257.6 317.5,255.7 319.4,254.2 321.2,253.1 323.0,252.4 324.8,252.4 326.5,252.9 328.2,253.6 330.0,254.2 331.5,254.5 332.9,254.6 334.4,254.9 335.9,255.6 337.3,256.8 338.8,258.3 340.2,260.0 341.7,261.5 344.3,263.0 346.9,264.6 349.4,265.9 352.0,266.6 353.8,266.4 355.6,265.5 357.5,264.4 359.3,263.7 360.7,263.6 362.1,263.8 363.6,263.9 365.0,263.7 366.1,262.8 367.2,261.6 368.4,260.3 369.5,259.3 370.6,258.9 371.8,258.7 372.9,258.5 374.0,257.8 375.4,256.5 376.9,254.9 378.4,252.9 379.8,250.5 381.2,247.4 382.7,243.7 384.2,240.1 385.6,237.3 386.7,235.5 387.8,234.2 388.9,233.5 390.0,233.0 391.2,233.1 392.5,233.7 393.8,234.3 395.0,234.4 396.3,233.5 397.6,232.1 399.0,230.7 400.3,230.0 401.7,230.1 403.1,230.7 404.6,231.7 406.0,233.0 407.9,234.9 409.7,237.3 411.5,239.7 413.4,241.7 415.2,243.2 417.0,244.5 418.9,245.5 420.7,246.0 422.9,246.0 425.1,245.5 427.3,244.8 429.5,244.0 431.4,243.3 433.2,242.7 435.0,241.7 436.9,240.3 439.1,238.2 441.2,235.5 443.4,232.6 445.6,230.0 447.5,227.3 449.3,224.4 451.1,222.1 453.0,221.2 454.1,222.2 455.1,224.6 456.2,227.5 457.3,230.0 458.8,232.0 460.2,233.8 461.7,235.6 463.2,237.3 465.0,238.8 466.9,240.2 468.7,241.6 470.5,243.2 472.3,245.3 474.1,247.6 476.0,249.9 477.8,252.0 479.3,253.6 480.8,254.8 482.2,256.1 483.7,257.8 484.8,260.1 485.9,262.7 486.9,265.4 488.0,268.0 489.1,270.2 490.2,272.3 491.4,274.4 492.5,276.9 493.4,280.2 494.2,284.1 495.1,287.6 496.0,290.0 497.3,290.4 498.6,289.6 500.0,288.6 501.3,288.6 502.4,290.0 503.5,292.1 504.5,294.7 505.6,297.3 506.7,300.0 507.8,302.9 508.9,305.9 510.0,309.0 511.5,312.4 513.0,316.0 514.4,319.4 515.9,322.2 517.0,324.2 518.1,325.8 519.2,326.8 520.3,327.3 521.4,327.3 522.5,326.9 523.6,325.8 524.7,323.7 526.2,320.1 527.6,315.2 529.0,310.1 530.5,306.0 532.0,303.4 533.5,301.6 534.9,299.9 536.4,297.3 537.9,293.4 539.3,288.7 540.8,284.0 542.2,279.8 543.7,276.1 545.1,272.6 546.5,269.7 548.0,268.0 549.9,268.2 551.7,269.8 553.5,271.4 555.4,271.7 556.9,269.9 558.3,267.0 559.8,263.6 561.3,260.7 563.1,258.4 565.0,256.4 566.8,254.3 568.6,252.0 570.8,249.1 573.0,245.8 575.1,242.7 577.3,240.3 578.9,238.7 580.6,237.7 582.2,237.2 583.9,237.3 585.2,238.2 586.5,239.9 587.7,241.7 589.0,243.2 590.5,243.9 592.0,244.3 593.4,244.8 594.9,246.0 596.4,248.2 597.8,251.1 599.2,254.0 600.7,256.4 601.8,258.3 602.9,260.0 603.9,261.2 605.0,261.5 606.1,260.6 607.2,258.9 608.4,256.8 609.5,255.0 610.6,253.7 611.7,252.4 612.8,251.4 613.9,250.5 615.0,249.8 616.1,249.3 617.2,249.0 618.3,249.0 620.1,249.6 622.0,250.8 623.8,251.8 625.6,252.0 627.5,251.0 629.3,249.3 631.1,247.4 633.0,246.0 634.8,245.1 636.6,244.5 638.5,244.3 640.3,244.6 641.7,245.8 643.1,247.6 644.6,249.6 646.0,251.2 647.5,252.1 649.0,252.7 650.5,253.3 652.0,254.0 653.5,255.1 654.9,256.3 656.3,257.5 657.8,258.5 659.3,259.3 660.8,260.0 662.2,260.5 663.7,260.7 665.5,260.6 667.4,260.3 669.2,259.7 671.0,258.5 672.5,256.5 673.9,253.9 675.3,251.2 676.8,249.0 677.7,247.3 678.6,245.9 679.6,244.8 680.5,244.0 681.8,243.9 683.0,244.3 684.3,244.7 685.6,244.6 687.1,243.8 688.5,242.6 690.0,241.3 691.5,240.3 693.0,239.8 694.4,239.6 695.8,239.3 697.3,238.8 699.0,237.7 700.6,236.1 702.3,234.8 704.0,234.4 705.2,235.3 706.5,237.0 707.8,238.9 709.0,240.3 710.9,240.9 712.7,241.0 714.5,241.0 716.4,241.0 717.9,241.1 719.3,241.2 720.8,241.2 722.2,241.0 723.5,240.5 724.8,239.8 726.0,239.1 727.3,238.8 729.3,238.9 731.3,239.2 733.4,239.9 735.4,241.0 738.0,242.8 740.5,245.2 743.0,247.7 745.6,249.8 747.6,251.7 749.7,253.6 751.7,255.0 753.7,255.6 755.0,255.0 756.2,253.4 757.5,251.7 758.8,250.5 761.3,250.2 763.9,250.4 766.5,250.6 769.0,250.5 771.6,250.1 774.1,249.6 776.7,248.8 779.3,247.6 781.8,245.8 784.4,243.6 787.0,241.1 789.5,238.8 791.7,236.5 793.9,234.1 796.1,231.8 798.3,230.0 800.0,228.5 801.6,227.3 803.3,226.6 805.0,226.4 806.6,227.0 808.2,228.2 809.9,229.8 811.5,231.5 813.6,233.3 815.8,235.4 817.9,237.5 820.0,239.4 822.5,241.1 825.0,242.6 827.5,244.0 830.0,245.4 833.0,246.9 836.1,248.3 839.2,249.6 842.2,250.5 844.2,250.8 846.2,250.6 848.3,250.3 850.3,250.5 851.5,251.5 852.8,252.9 854.0,254.1 855.3,254.5 856.3,253.4 857.3,251.2 858.3,249.2 859.3,248.4 860.5,249.4 861.8,251.4 863.0,254.0 864.3,256.5 865.3,258.3 866.3,259.9 867.4,262.3 868.4,266.6 868.9,273.3 869.4,281.8 869.9,291.3 870.4,300.8 871.1,310.7 871.9,321.3 872.6,331.7 873.4,341.0 874.1,349.4 874.9,357.1 875.6,363.8 876.4,369.2 876.9,373.0 877.4,375.5 877.9,376.9 878.4,377.3 879.2,376.5 880.0,374.5 880.7,371.9 881.5,369.2 883.0,366.6 884.5,363.8 886.0,360.7 887.5,357.0 888.5,352.3 889.5,346.9 890.5,341.5 891.5,337.0 892.5,333.7 893.5,331.1 894.5,328.9 895.5,327.0 897.0,325.2 898.5,323.8 900.1,322.6 901.6,322.0 902.9,322.2 904.1,323.1 905.4,324.0 906.6,324.0 908.1,322.8 909.7,320.8 911.2,318.7 912.7,316.9 914.2,315.7 915.7,314.8 917.2,314.0 918.7,312.9 920.5,311.4 922.2,309.5 924.0,307.9 925.7,306.8 927.7,306.4 929.8,306.5 931.8,307.0 933.8,307.8 936.0,309.0 938.3,310.7 940.5,312.5 942.8,313.9 944.8,314.8 946.8,315.5 948.9,316.1 950.9,316.9 952.4,318.0 954.0,319.3 955.5,320.4 957.0,321.0 958.0,320.7 959.0,319.8 960.0,319.0 961.0,318.9 963.0,319.9 965.0,321.6 967.0,323.5 969.0,325.0 971.0,326.1 973.0,327.1 975.0,327.8 977.0,328.0 978.5,327.6 980.0,326.8 981.5,325.5 983.0,324.0 984.5,321.9 986.0,319.3 987.5,316.8 989.0,314.9 991.0,313.8 993.1,313.2 995.2,313.0 997.2,312.9 998.7,313.4 1000.2,314.5 1001.7,315.3 1003.2,314.9 1004.7,313.0 1006.2,310.1 1007.8,306.6 1009.3,302.8 1010.8,298.6 1012.3,293.8 1013.8,288.9 1015.3,284.7 1016.3,281.0 1017.3,277.7 1018.3,274.8 1019.3,272.6 1020.3,271.0 1021.3,270.1 1022.4,269.6 1023.4,269.6 1025.2,270.3 1026.9,271.7 1028.7,273.1 1030.4,273.6 1031.9,273.4 1033.4,272.7 1034.9,271.3 1036.4,268.6 1038.2,264.3 1040.0,258.6 1041.7,252.3 1043.5,246.4 1044.8,240.7 1046.0,235.0 1047.2,229.4 1048.5,224.3 1049.8,219.6 1051.0,215.3 1052.3,211.4 1053.6,208.2 1055.1,205.5 1056.5,203.4 1058.0,202.1 1059.5,202.0 1061.1,203.8 1062.7,207.1 1064.2,210.7 1065.8,213.7 1067.6,215.8 1069.4,217.5 1071.2,218.9 1073.0,220.0 1074.6,221.1 1076.2,222.0 1077.9,222.5 1079.5,222.0 1080.8,220.2 1082.1,217.5 1083.4,214.4 1084.7,211.6 1086.5,209.2 1088.3,206.9 1090.2,204.8 1092.0,203.0 1093.6,201.5 1095.2,200.3 1096.8,199.5 1098.4,199.0 1099.7,199.2 1101.1,200.1 1102.4,200.9 1103.7,201.0 1105.5,199.9 1107.3,197.9 1109.2,196.2 1111.0,195.8 1112.6,196.9 1114.2,198.9 1115.7,201.8 1117.3,205.3 1118.6,209.3 1119.9,214.0 1121.3,219.6 1122.6,226.3 1123.6,234.4 1124.7,243.7 1125.8,253.7 1126.8,264.2 1127.6,275.5 1128.4,287.6 1129.2,299.6 1130.0,310.5 1130.8,320.4 1131.5,329.8 1132.2,337.9 1133.0,344.0 1135.2,349.8 1138.4,340.0 1139.2,333.3 1140.0,324.8 1140.7,315.4 1141.5,306.3 1142.5,297.2 1143.6,287.6 1144.7,278.5 1145.7,270.5 1146.8,263.9 1147.8,258.2 1148.9,253.4 1150.0,249.4 1151.3,246.6 1152.6,244.9 1153.9,243.6 1155.2,242.0 1157.3,239.7 1159.4,237.1 1161.5,234.9 1163.6,233.7 1166.2,233.7 1168.9,234.7 1171.5,236.2 1174.2,237.9 1175.8,240.0 1177.3,242.6 1178.9,245.2 1180.5,247.3 1182.1,248.9 1183.7,250.3 1185.2,251.2 1186.8,251.5 1188.9,251.0 1191.0,249.9 1193.1,248.6 1195.2,247.3 1197.3,246.2 1199.4,245.1 1201.5,244.1 1203.6,243.0 1205.4,241.7 1207.3,240.2 1209.2,239.0 1211.0,238.9 1212.8,239.9 1214.7,241.8 1216.6,244.3 1218.4,247.3 1220.5,250.8 1222.6,255.0 1224.7,259.5 1226.8,264.2 1228.9,269.3 1231.0,274.9 1233.1,280.4 1235.2,285.2 1237.3,289.4 1239.4,293.1 1241.5,296.3 1243.6,298.9 1244.9,300.8 1246.2,302.2 1247.6,302.9 1248.9,303.0 1250.5,302.3 1252.1,300.8 1253.6,298.8 1255.2,296.8 1257.0,294.6 1258.8,292.1 1260.7,289.5 1262.5,287.3 1264.1,285.6 1265.7,284.2 1267.3,282.7 1268.9,281.0 1269.9,278.6 1271.0,275.9 1272.0,273.3 1273.0,271.5 1274.1,270.7 1275.2,270.5 1276.2,270.8 1277.3,271.5 1278.6,273.3 1279.9,275.9 1281.2,278.2 1282.5,279.0 1283.8,277.5 1285.2,274.5 1286.5,271.1 1287.8,268.4 1289.3,266.6 1290.9,265.2 1292.5,264.0 1294.0,263.0 1295.4,262.0 1296.8,261.1 1298.2,260.6 1299.6,260.4 1301.5,260.9 1303.5,262.0 1305.5,263.1 1307.4,263.9 1308.5,264.0 1309.6,263.7 1310.6,263.6 1311.7,263.9 1313.2,265.1 1314.8,266.9 1316.3,268.7 1317.8,270.0 1318.9,270.4 1320.0,270.3 1321.1,270.2 1322.2,270.8 1323.7,272.4 1325.2,274.6 1326.7,276.9 1328.2,278.7 1330.2,280.0 1332.1,281.0 1334.0,281.7 1336.0,282.0 1337.3,281.8 1338.7,281.2 1340.0,280.4 1341.3,279.5 1342.4,278.3 1343.4,276.9 1344.5,275.7 1345.6,275.2 1347.5,275.9 1349.5,277.5 1351.5,278.9 1353.4,279.5 1354.9,278.5 1356.5,276.7 1358.0,274.7 1359.5,273.5 1360.6,273.1 1361.7,273.1 1362.8,273.7 1363.9,275.2 1365.0,277.8 1366.1,281.4 1367.1,285.4 1368.2,289.0 1369.5,292.3 1370.8,295.6 1372.1,298.6 1373.4,301.3 1374.7,303.6 1376.0,305.6 1377.3,307.2 1378.6,308.2 1380.1,308.3 1381.7,307.7 1383.2,306.9 1384.7,306.5 1386.2,306.8 1387.8,307.5 1389.3,308.1 1390.8,308.2 1392.5,307.4 1394.3,306.0 1396.0,304.6 1397.8,303.9 1399.5,304.1 1401.2,304.9 1403.0,305.9 1404.7,306.5 1406.2,306.9 1407.8,307.3 1409.3,307.3 1410.8,306.5 1411.8,304.4 1412.9,301.5 1414.0,298.4 1415.0,296.0 1416.3,294.9 1417.7,294.5 1419.1,294.0 1420.4,292.6 1421.7,289.7 1423.0,285.8 1424.3,281.8 1425.6,278.7 1426.9,276.3 1428.2,274.4 1429.5,273.3 1430.8,273.5 1432.1,275.7 1433.4,279.3 1434.7,283.5 1436.0,287.4 1437.3,291.3 1438.6,295.6 1439.9,299.0 1441.2,300.4 1442.3,299.1 1443.4,295.8 1444.5,291.6 1445.6,287.4 1446.7,283.0 1447.8,277.9 1448.9,273.3 1450.0,270.0 1451.2,268.7 1452.5,268.7 1453.8,269.2 1455.0,269.0 1456.5,267.7 1458.1,265.8 1459.7,264.2 1461.2,263.9 1462.7,265.3 1464.2,267.9 1465.8,270.9 1467.3,273.5 1468.8,275.7 1470.3,278.0 1471.9,279.9 1473.4,281.3 1474.9,281.8 1476.5,281.6 1478.0,281.5 1479.5,282.0 1481.2,283.5 1483.0,285.6 1484.7,287.9 1486.4,290.0 1488.2,291.8 1489.9,293.5 1491.7,295.2 1493.4,297.0 1495.6,298.9 1497.7,300.9 1499.8,302.9 1502.0,304.7 1503.8,306.5 1505.5,308.3 1507.2,309.9 1509.0,310.8 1510.5,310.6 1512.0,309.7 1513.5,308.8 1515.0,309.0 1516.1,310.6 1517.2,313.0 1518.3,315.9 1519.4,318.6 1520.5,321.4 1521.6,324.6 1522.7,327.3 1523.8,329.0 1524.7,329.6 1525.5,329.4 1526.4,328.4 1527.3,326.5 1528.4,323.2 1529.5,318.6 1530.6,313.8 1531.7,310.0 1532.8,307.4 1534.0,305.5 1535.2,303.8 1536.3,302.2 1537.3,300.4 1538.2,298.6 1539.2,297.0 1540.2,296.0 1541.4,295.9 1542.6,296.4 1543.7,297.0 1544.9,296.8 1546.1,295.7 1547.2,294.0 1548.4,292.0 1549.6,289.8 1550.8,287.2 1551.9,284.1 1553.0,281.1 1554.2,278.9 1555.4,277.5 1556.6,276.6 1557.7,276.2 1558.9,276.5 1560.2,277.6 1561.6,279.4 1563.0,281.5 1564.3,283.5 1566.0,285.4 1567.8,287.5 1569.5,289.4 1571.3,291.3 1573.2,293.2 1575.2,295.2 1577.1,296.7 1579.0,297.5 1580.2,297.2 1581.4,296.1 1582.6,294.5 1583.8,292.9 1585.0,291.2 1586.1,289.1 1587.2,287.0 1588.4,285.0 1589.4,283.0 1590.3,281.1 1591.3,279.1 1592.3,277.3 1593.8,275.4 1595.4,273.6 1597.0,272.0 1598.5,271.0 1599.7,271.0 1600.8,271.8 1602.0,272.6 1603.2,272.7 1604.6,271.8 1606.0,270.3 1607.3,268.6 1608.7,267.2 1610.2,266.3 1611.8,265.7 1613.4,265.0 1614.9,264.0 1616.1,262.6 1617.2,261.0 1618.3,259.1 1619.5,257.0 1620.5,254.5 1621.5,251.7 1622.4,248.9 1623.4,246.2 1624.6,243.6 1625.7,241.0 1626.8,238.6 1628.0,236.9 1628.6,235.8 1629.2,235.2 1629.8,235.1 1630.4,235.3 1631.6,236.0 1632.7,237.2 1633.8,238.6 1635.0,240.0 1636.4,241.5 1637.8,243.1 1639.1,244.7 1640.5,246.2 1641.5,247.7 1642.5,249.2 1643.4,250.6 1644.4,251.7 1645.8,252.4 1647.2,252.9 1648.5,253.2 1649.9,253.2 1650.9,253.1 1651.8,252.8 1652.8,252.2 1653.8,250.9 1654.3,248.6 1654.9,245.4 1655.5,242.3 1656.0,240.0 1656.8,238.8 1657.6,238.1 1658.4,238.0 1659.2,238.4 1660.0,239.4 1660.8,241.1 1661.5,243.0 1662.3,244.7 1662.9,246.3 1663.5,248.0 1664.1,249.4 1664.7,250.0 1666.0,249.4 1667.3,248.0 1668.7,246.5 1670.0,245.4 1671.4,245.1 1672.8,245.3 1674.1,245.5 1675.5,245.4 1677.1,244.9 1678.7,244.1 1680.2,243.3 1681.8,242.3 1682.8,241.1 1683.8,239.7 1684.7,238.4 1685.7,237.7 1686.7,237.7 1687.6,238.1 1688.5,238.9 1689.5,240.0 1690.7,241.6 1691.8,243.7 1693.0,245.9 1694.2,247.8 1695.6,249.5 1697.0,251.2 1698.3,252.6 1699.7,253.2 1701.0,253.0 1702.3,252.0 1703.7,250.7 1705.0,249.3 1706.2,247.8 1707.4,246.1 1708.6,244.3 1709.8,242.3 1710.8,240.1 1711.8,237.7 1712.7,235.2 1713.7,233.0 1714.8,231.2 1716.0,229.6 1717.2,228.0 1718.3,226.0 1719.3,223.4 1720.2,220.5 1721.2,217.6 1722.2,215.0 1723.0,212.8 1723.8,210.9 1724.5,209.2 1725.3,208.0 1726.5,207.3 1727.7,207.0 1728.8,207.0 1730.0,207.3 1731.0,207.9 1732.0,208.8 1732.9,210.0 1733.9,211.2 1734.7,212.8 1735.5,214.6 1736.2,216.3 1737.0,217.4 1738.0,217.4 1739.0,216.7 1739.9,216.0 1740.9,215.9 1741.7,216.5 1742.5,217.5 1743.2,219.1 1744.0,221.3 1745.0,224.8 1746.0,229.4 1746.9,233.8 1747.9,236.9 1748.9,238.7 1749.8,238.7 1750.8,238.7 1751.8,237.7 1752.0,232.4 1752.2,224.7 1752.3,216.2 1752.5,208.9 1752.9,202.7 1753.2,196.8 1753.6,191.8 1754.0,187.9 1755.2,185.6 1756.4,184.6 1757.6,184.3 1758.8,184.0"/>
<polyline fill="none" stroke="#34a853" stroke-width="6" stroke-linejoin="miter" stroke-miterlimit="1" points="144.2,323.5 145.2,323.5 146.2,323.5 147.2,323.5 148.2,323.5 149.2,323.5 150.2,323.5 151.2,323.5 152.2,323.5 153.2,323.5 154.2,323.5 155.2,323.5 156.2,323.5 157.2,323.5 158.2,299.0 159.2,290.4 160.2,281.2 161.2,289.1 162.2,277.5 163.2,286.8 164.2,276.7 165.2,285.0 166.2,275.3 167.2,283.7 168.2,274.1 169.2,282.9 170.2,272.5 171.2,281.6 172.2,271.1 173.2,280.9 174.2,270.3 175.2,279.6 176.2,269.3 177.2,278.2 178.2,267.9 179.2,276.3 180.2,264.8 181.2,274.2 182.2,263.9 183.2,273.0 184.2,262.4 185.2,271.4 186.2,261.8 187.2,270.6 188.2,261.2 189.2,271.8 190.2,263.5 191.2,274.5 192.2,265.4 193.2,277.0 194.2,268.9 195.2,279.8 196.2,272.0 197.2,283.4 198.2,275.3 199.2,286.2 200.2,277.9 201.2,289.0 202.2,281.0 203.2,291.7 204.2,283.2 205.2,294.1 206.2,285.4 207.2,296.8 208.2,288.8 209.2,299.6 210.2,291.7 211.2,301.1 212.2,292.3 213.2,301.9 214.2,292.3 215.2,302.2 216.2,292.9 217.2,301.7 218.2,290.0 219.2,298.7 220.2,287.5 221.2,295.9 222.2,285.4 223.2,294.5 224.2,283.9 225.2,293.7 226.2,284.0 227.2,294.1 228.2,283.8 229.2,293.3 230.2,283.4 231.2,293.4 232.2,282.4 233.2,293.8 234.2,283.8 235.2,293.2 236.2,283.0 237.2,291.6 238.2,281.4 239.2,289.7 240.2,279.3 241.2,288.4 242.2,278.3 243.2,287.7 244.2,277.6 245.2,287.4 246.2,277.4 247.2,287.1 248.2,277.0 249.2,290.1 250.2,283.6 251.2,295.9 252.2,288.8 253.2,301.6 254.2,294.3 255.2,305.5 256.2,298.3 257.2,316.0 258.2,313.3 259.2,326.2 260.2,309.0 261.2,312.5 262.2,303.7 263.2,313.8 264.2,304.2 265.2,315.5 266.2,306.7 267.2,317.0 268.2,307.8 269.2,318.2 270.2,308.4 271.2,318.4 272.2,309.3 273.2,319.7 274.2,310.0 275.2,319.7 276.2,309.9 277.2,320.6 278.2,311.3 279.2,321.1 280.2,312.0 281.2,322.2 282.2,313.9 283.2,324.3 284.2,316.4 285.2,326.6 286.2,318.6 287.2,329.0 288.2,320.1 289.2,330.0 290.2,320.9 291.2,332.2 292.2,322.3 293.2,332.8 294.2,324.1 295.2,334.3 296.2,325.1 297.2,334.5 298.2,324.7 299.2,335.3 300.2,326.3 301.2,337.5 302.2,327.1 303.2,337.5 304.2,328.3 305.2,338.9 306.2,329.7 307.2,341.7 308.2,331.4 309.2,341.7 310.2,333.0 311.2,343.7 312.2,334.1 313.2,344.4 314.2,334.8 315.2,345.7 316.2,335.5 317.2,345.7 318.2,335.4 319.2,346.1 320.2,335.9 321.2,346.4 322.2,336.7 323.2,346.9 324.2,337.7 325.2,347.9 326.2,338.5 327.2,349.0 328.2,339.6 329.2,350.2 330.2,340.3 331.2,350.2 332.2,340.9 333.2,350.1 334.2,340.3 335.2,349.7 336.2,338.7 337.2,348.7 338.2,338.3 339.2,348.6 340.2,339.1 341.2,349.4 342.2,340.7 343.2,350.6 344.2,342.1 345.2,351.8 346.2,340.8 347.2,351.0 348.2,340.8 349.2,349.3 350.2,339.8 351.2,348.8 352.2,339.2 353.2,348.3 354.2,339.2 355.2,349.2 356.2,339.4 357.2,349.8 358.2,340.9 359.2,350.8 360.2,341.7 361.2,350.5 362.2,339.9 363.2,348.8 364.2,337.6 365.2,345.6 366.2,335.2 367.2,343.1 368.2,332.8 369.2,341.8 370.2,332.8 371.2,343.3 372.2,334.2 373.2,344.9 374.2,335.6 375.2,344.9 376.2,337.2 377.2,347.8 378.2,340.8 379.2,351.6 380.2,343.2 381.2,353.0 382.2,343.9 383.2,354.2 384.2,344.4 385.2,353.9 386.2,345.6 387.2,354.5 388.2,346.3 389.2,355.6 390.2,347.7 391.2,357.8 392.2,349.1 393.2,359.6 394.2,350.7 395.2,360.3 396.2,352.5 397.2,361.6 398.2,353.6 399.2,363.2 400.2,354.9 401.2,364.1 402.2,355.7 403.2,365.7 404.2,357.0 405.2,367.4 406.2,358.5 407.2,369.7 408.2,360.4 409.2,369.9 410.2,360.5 411.2,369.1 412.2,359.7 413.2,368.6 414.2,359.8 415.2,368.5 416.2,359.5 417.2,368.5 418.2,359.2 419.2,368.5 420.2,358.6 421.2,368.3 422.2,358.4 423.2,368.2 424.2,358.8 425.2,367.5 426.2,358.0 427.2,367.6 428.2,358.2 429.2,367.4 430.2,357.5 431.2,367.7 432.2,357.7 433.2,366.8 434.2,356.7 435.2,366.1 436.2,355.9 437.2,364.7 438.2,355.4 439.2,364.2 440.2,355.9 441.2,366.3 442.2,356.8 443.2,367.2 444.2,358.5 445.2,369.1 446.2,359.0 447.2,370.7 448.2,362.5 449.2,373.7 450.2,366.0 451.2,377.6 452.2,369.9 453.2,381.6 454.2,374.7 455.2,386.5 456.2,379.4 457.2,391.6 458.2,385.3 459.2,396.6 460.2,390.7 461.2,402.1 462.2,394.7 463.2,403.6 464.2,394.3 465.2,404.1 466.2,394.6 467.2,403.5 468.2,393.0 469.2,401.0 470.2,390.6 471.2,398.8 472.2,387.6 473.2,396.5 474.2,388.2 475.2,397.6 476.2,389.6 477.2,399.6 478.2,390.8 479.2,401.1 480.2,389.9 481.2,397.6 482.2,386.6 483.2,394.5 484.2,383.6 485.2,391.1 486.2,379.8 487.2,388.4 488.2,379.9 489.2,391.3 490.2,382.6 491.2,393.5 492.2,386.6 493.2,397.6 494.2,390.3 495.2,401.6 496.2,393.5 497.2,402.3 498.2,393.4 499.2,402.8 500.2,393.7 501.2,403.8 502.2,396.0 503.2,407.4 504.2,400.7 505.2,411.4 506.2,404.3 507.2,415.5 508.2,407.8 509.2,420.1 510.2,413.5 511.2,424.9 512.2,417.6 513.2,428.9 514.2,420.5 515.2,431.6 516.2,422.5 517.2,432.5 518.2,424.7 519.2,434.8 520.2,425.3 521.2,434.1 522.2,425.6 523.2,434.1 524.2,427.2 525.2,437.9 526.2,430.7 527.2,441.5 528.2,433.9 529.2,444.6 530.2,433.6 531.2,442.1 532.2,431.4 533.2,439.6 534.2,429.5 535.2,437.3 536.2,427.9 537.2,437.0 538.2,428.1 539.2,437.3 540.2,428.2 541.2,437.0 542.2,428.3 543.2,435.4 544.2,423.5 545.2,430.6 546.2,418.9 547.2,426.2 548.2,415.2 549.2,425.2 550.2,417.4 551.2,427.9 552.2,419.0 553.2,429.1 554.2,421.0 555.2,433.0 556.2,424.6 557.2,436.8 558.2,428.3 559.2,439.0 560.2,432.0 561.2,443.2 562.2,435.6 563.2,446.0 564.2,438.8 565.2,449.8 566.2,442.2 567.2,452.2 568.2,444.0 569.2,454.8 570.2,446.7 571.2,456.8 572.2,449.0 573.2,460.0 574.2,449.5 575.2,457.6 576.2,447.5 577.2,456.3 578.2,446.3 579.2,455.0 580.2,445.8 581.2,453.6 582.2,443.9 583.2,451.5 584.2,441.4 585.2,452.3 586.2,446.7 587.2,458.9 588.2,453.5 589.2,466.1 590.2,461.8 591.2,478.0 592.2,471.7 593.2,477.9 594.2,465.5 595.2,473.8 596.2,463.1 597.2,471.9 598.2,462.1 599.2,470.6 600.2,460.2 601.2,468.5 602.2,459.1 603.2,467.1 604.2,457.7 605.2,467.0 606.2,456.6 607.2,465.4 608.2,455.7 609.2,464.2 610.2,454.5 611.2,462.8 612.2,453.4 613.2,461.7 614.2,452.3 615.2,462.0 616.2,452.5 617.2,462.2 618.2,452.1 619.2,461.2 620.2,451.6 621.2,460.8 622.2,450.8 623.2,460.5 624.2,452.2 625.2,462.3 626.2,452.9 627.2,462.7 628.2,453.3 629.2,462.8 630.2,453.1 631.2,463.1 632.2,453.5 633.2,463.2 634.2,453.6 635.2,462.6 636.2,453.5 637.2,462.0 638.2,451.5 639.2,459.0 640.2,447.8 641.2,455.0 642.2,444.3 643.2,452.1 644.2,442.8 645.2,452.7 646.2,442.4 647.2,451.4 648.2,442.0 649.2,451.3 650.2,441.6 651.2,450.5 652.2,441.0 653.2,450.1 654.2,442.1 655.2,452.7 656.2,444.1 657.2,453.6 658.2,445.3 659.2,456.0 660.2,447.8 661.2,457.6 662.2,448.8 663.2,458.3 664.2,450.1 665.2,459.5 666.2,451.5 667.2,461.8 668.2,452.0 669.2,461.8 670.2,453.3 671.2,463.6 672.2,455.2 673.2,465.5 674.2,457.9 675.2,467.6 676.2,457.6 677.2,466.4 678.2,455.1 679.2,464.2 680.2,454.0 681.2,462.4 682.2,452.9 683.2,462.1 684.2,452.8 685.2,461.3 686.2,452.0 687.2,461.1 688.2,451.5 689.2,460.7 690.2,451.7 691.2,460.6 692.2,450.9 693.2,459.6 694.2,449.7 695.2,458.5 696.2,448.5 697.2,456.3 698.2,447.1 699.2,454.9 700.2,445.1 701.2,454.2 702.2,444.7 703.2,457.2 704.2,450.2 705.2,461.1 706.2,453.3 707.2,464.7 708.2,454.7 709.2,464.6 710.2,454.7 711.2,463.7 712.2,454.2 713.2,462.9 714.2,452.7 715.2,462.4 716.2,453.3 717.2,462.3 718.2,451.9 719.2,461.2 720.2,452.2 721.2,460.8 722.2,451.5 723.2,460.6 724.2,451.4 725.2,459.8 726.2,450.6 727.2,459.2 728.2,449.8 729.2,459.9 730.2,451.3 731.2,460.9 732.2,452.4 733.2,462.2 734.2,454.0 735.2,463.8 736.2,453.0 737.2,462.6 738.2,453.8 739.2,462.3 740.2,452.2 741.2,462.1 742.2,452.3 743.2,461.4 744.2,451.5 745.2,461.8 746.2,454.0 747.2,464.7 748.2,456.2 749.2,467.0 750.2,459.4 751.2,469.4 752.2,461.8 753.2,473.0 754.2,463.1 755.2,474.4 756.2,466.4 757.2,476.2 758.2,466.7 759.2,474.3 760.2,463.6 761.2,470.8 762.2,460.5 763.2,467.7 764.2,456.4 765.2,463.9 766.2,452.6 767.2,461.9 768.2,452.6 769.2,461.8 770.2,452.6 771.2,461.2 772.2,451.8 773.2,460.9 774.2,450.6 775.2,459.2 776.2,450.9 777.2,461.0 778.2,452.4 779.2,461.8 780.2,453.2 781.2,462.8 782.2,454.6 783.2,464.6 784.2,455.4 785.2,467.2 786.2,457.7 787.2,468.0 788.2,459.7 789.2,470.3 790.2,459.9 791.2,468.6 792.2,458.4 793.2,468.0 794.2,458.2 795.2,466.4 796.2,456.7 797.2,465.5 798.2,456.2 799.2,464.5 800.2,454.8 801.2,462.7 802.2,453.0 803.2,461.7 804.2,451.2 805.2,459.5 806.2,450.0 807.2,458.6 808.2,448.4 809.2,456.4 810.2,446.3 811.2,455.2 812.2,445.0 813.2,453.2 814.2,444.2 815.2,453.4 816.2,442.8 817.2,453.0 818.2,443.6 819.2,453.6 820.2,445.5 821.2,455.3 822.2,446.9 823.2,456.8 824.2,447.4 825.2,458.2 826.2,450.1 827.2,459.8 828.2,451.2 829.2,461.1 830.2,452.6 831.2,462.6 832.2,454.3 833.2,464.5 834.2,455.9 835.2,466.0 836.2,457.2 837.2,467.4 838.2,458.6 839.2,469.0 840.2,460.0 841.2,469.7 842.2,460.9 843.2,470.7 844.2,462.1 845.2,472.1 846.2,463.3 847.2,473.3 848.2,465.3 849.2,473.8 850.2,463.7 851.2,473.0 852.2,463.7 853.2,472.0 854.2,462.9 855.2,473.8 856.2,466.6 857.2,479.4 858.2,473.2 859.2,486.2 860.2,480.1 861.2,491.9 862.2,486.4 863.2,498.7 864.2,491.7 865.2,505.9 866.2,510.0 867.2,523.4 868.2,516.7 869.2,528.3 870.2,521.9 871.2,533.3 872.2,530.1 873.2,545.2 874.2,541.8 875.2,556.7 876.2,551.7 877.2,564.5 878.2,558.5 879.2,571.6 880.2,565.6 881.2,578.7 882.2,572.3 883.2,584.8 884.2,579.0 885.2,591.6 886.2,585.3 887.2,595.3 888.2,587.6 889.2,597.3 890.2,590.2 891.2,601.1 892.2,592.8 893.2,603.8 894.2,598.0 895.2,609.3 896.2,602.8 897.2,615.1 898.2,606.4 899.2,616.4 900.2,608.8 901.2,619.4 902.2,612.0 903.2,621.8 904.2,614.1 905.2,624.4 906.2,616.7 907.2,628.2 908.2,620.9 909.2,630.9 910.2,624.4 911.2,634.6 912.2,627.8 913.2,639.4 914.2,633.1 915.2,644.7 916.2,639.3 917.2,650.9 918.2,643.2 919.2,652.6 920.2,643.4 921.2,652.4 922.2,643.4 923.2,652.3 924.2,643.6 925.2,653.0 926.2,644.1 927.2,653.9 928.2,645.2 929.2,656.0 930.2,648.2 931.2,657.6 932.2,649.2 933.2,659.4 934.2,648.8 935.2,655.5 936.2,644.2 937.2,652.6 938.2,646.2 939.2,658.1 940.2,650.3 941.2,660.9 942.2,653.8 943.2,664.5 944.2,655.6 945.2,665.0 946.2,655.8 947.2,664.7 948.2,655.5 949.2,663.9 950.2,655.2 951.2,663.6 952.2,654.1 953.2,662.6 954.2,652.3 955.2,662.5 956.2,652.4 957.2,660.7 958.2,650.9 959.2,659.8 960.2,649.3 961.2,658.3 962.2,651.2 963.2,662.2 964.2,654.4 965.2,664.5 966.2,657.7 967.2,667.6 968.2,660.1 969.2,669.9 970.2,661.3 971.2,670.5 972.2,662.2 973.2,671.2 974.2,662.9 975.2,671.9 976.2,663.3 977.2,671.9 978.2,663.8 979.2,673.0 980.2,666.1 981.2,677.2 982.2,670.5 983.2,682.3 984.2,675.3 985.2,686.1 986.2,677.0 987.2,684.5 988.2,674.1 989.2,682.1 990.2,672.1 991.2,680.2 992.2,669.8 993.2,678.1 994.2,670.1 995.2,682.0 996.2,675.1 997.2,686.3 998.2,678.9 999.2,689.5 1000.2,681.9 1001.2,690.4 1002.2,681.4 1003.2,690.3 1004.2,680.4 1005.2,690.1 1006.2,681.2 1007.2,686.6 1008.2,674.7 1009.2,680.2 1010.2,668.1 1011.2,674.0 1012.2,662.2 1013.2,668.6 1014.2,657.4 1015.2,664.6 1016.2,654.0 1017.2,660.4 1018.2,649.9 1019.2,657.0 1020.2,647.0 1021.2,655.1 1022.2,646.0 1023.2,653.8 1024.2,644.4 1025.2,651.9 1026.2,644.0 1027.2,652.9 1028.2,644.8 1029.2,654.6 1030.2,646.0 1031.2,656.3 1032.2,649.0 1033.2,659.8 1034.2,652.4 1035.2,662.6 1036.2,655.9 1037.2,665.9 1038.2,659.1 1039.2,668.7 1040.2,661.4 1041.2,671.6 1042.2,663.8 1043.2,674.0 1044.2,667.2 1045.2,677.7 1046.2,669.7 1047.2,679.9 1048.2,673.0 1049.2,682.7 1050.2,675.4 1051.2,686.2 1052.2,678.2 1053.2,688.9 1054.2,681.7 1055.2,692.2 1056.2,684.4 1057.2,694.2 1058.2,686.3 1059.2,696.1 1060.2,687.5 1061.2,697.0 1062.2,688.2 1063.2,697.9 1064.2,690.1 1065.2,699.9 1066.2,691.2 1067.2,701.7 1068.2,693.6 1069.2,704.0 1070.2,696.6 1071.2,706.9 1072.2,699.1 1073.2,709.9 1074.2,701.8 1075.2,712.0 1076.2,704.7 1077.2,714.0 1078.2,704.3 1079.2,714.0 1080.2,704.2 1081.2,712.6 1082.2,703.8 1083.2,712.3 1084.2,703.2 1085.2,712.3 1086.2,702.9 1087.2,712.3 1088.2,702.1 1089.2,710.5 1090.2,700.4 1091.2,710.2 1092.2,699.7 1093.2,709.0 1094.2,698.8 1095.2,707.2 1096.2,698.1 1097.2,706.2 1098.2,695.4 1099.2,704.7 1100.2,694.0 1101.2,701.7 1102.2,690.8 1103.2,699.1 1104.2,688.7 1105.2,696.9 1106.2,686.2 1107.2,693.7 1108.2,683.4 1109.2,690.6 1110.2,680.7 1111.2,687.7 1112.2,678.6 1113.2,687.3 1114.2,678.2 1115.2,688.0 1116.2,680.0 1117.2,689.0 1118.2,680.5 1119.2,690.3 1120.2,681.8 1121.2,691.9 1122.2,684.3 1123.2,693.4 1124.2,686.0 1125.2,695.3 1126.2,684.5 1127.2,691.6 1128.2,681.1 1129.2,687.8 1130.2,678.2 1131.2,686.5 1132.2,677.7 1133.2,686.1 1134.2,677.6 1135.2,685.5 1136.2,677.0 1137.2,685.2 1138.2,675.9 1139.2,684.6 1140.2,676.2 1141.2,685.3 1142.2,677.0 1143.2,686.7 1144.2,678.4 1145.2,688.0 1146.2,678.4 1147.2,689.1 1148.2,681.3 1149.2,691.9 1150.2,683.4 1151.2,693.3 1152.2,684.7 1153.2,698.9 1154.2,694.6 1155.2,706.7 1156.2,698.9 1157.2,710.1 1158.2,703.0 1159.2,712.8 1160.2,705.9 1161.2,716.9 1162.2,708.8 1163.2,718.7 1164.2,710.9 1165.2,720.4 1166.2,712.7 1167.2,722.0 1168.2,714.4 1169.2,724.6 1170.2,717.8 1171.2,728.7 1172.2,722.1 1173.2,733.6 1174.2,727.6 1175.2,739.3 1176.2,734.2 1177.2,746.2 1178.2,740.9 1179.2,752.3 1180.2,745.4 1181.2,757.7 1182.2,750.5 1183.2,762.3 1184.2,754.5 1185.2,766.1 1186.2,758.5 1187.2,768.0 1188.2,758.2 1189.2,768.2 1190.2,759.2 1191.2,769.0 1192.2,760.2 1193.2,769.0 1194.2,759.7 1195.2,767.0 1196.2,758.2 1197.2,766.0 1198.2,756.6 1199.2,764.2 1200.2,754.3 1201.2,763.1 1202.2,753.2 1203.2,761.7 1204.2,752.8 1205.2,760.7 1206.2,751.0 1207.2,760.1 1208.2,751.3 1209.2,759.8 1210.2,749.3 1211.2,759.1 1212.2,749.4 1213.2,756.8 1214.2,747.2 1215.2,755.8 1216.2,745.2 1217.2,752.6 1218.2,743.0 1219.2,750.6 1220.2,740.5 1221.2,747.7 1222.2,740.0 1223.2,753.0 1224.2,745.6 1225.2,756.8 1226.2,749.8 1227.2,761.5 1228.2,754.3 1229.2,763.0 1230.2,754.7 1231.2,763.1 1232.2,753.5 1233.2,763.1 1234.2,754.1 1235.2,762.4 1236.2,753.5 1237.2,763.1 1238.2,753.5 1239.2,762.0 1240.2,754.1 1241.2,762.8 1242.2,754.4 1243.2,763.1 1244.2,754.7 1245.2,763.5 1246.2,754.8 1247.2,764.4 1248.2,755.1 1249.2,764.5 1250.2,755.3 1251.2,764.0 1252.2,755.0 1253.2,763.3 1254.2,753.6 1255.2,762.4 1256.2,753.5 1257.2,762.1 1258.2,751.5 1259.2,761.5 1260.2,751.8 1261.2,760.8 1262.2,752.3 1263.2,760.5 1264.2,752.1 1265.2,760.8 1266.2,752.5 1267.2,762.4 1268.2,754.0 1269.2,763.8 1270.2,756.7 1271.2,766.3 1272.2,758.9 1273.2,768.9 1274.2,760.8 1275.2,771.8 1276.2,763.9 1277.2,773.5 1278.2,766.0 1279.2,776.7 1280.2,768.9 1281.2,780.3 1282.2,772.5 1283.2,782.5 1284.2,776.0 1285.2,787.5 1286.2,781.0 1287.2,792.6 1288.2,786.2 1289.2,797.4 1290.2,790.2 1291.2,802.0 1292.2,796.4 1293.2,806.0 1294.2,796.4 1295.2,804.3 1296.2,795.5 1297.2,803.4 1298.2,794.1 1299.2,802.8 1300.2,794.1 1301.2,804.1 1302.2,796.0 1303.2,805.8 1304.2,797.3 1305.2,806.6 1306.2,798.4 1307.2,808.1 1308.2,800.5 1309.2,810.1 1310.2,802.7 1311.2,813.4 1312.2,805.1 1313.2,816.1 1314.2,808.8 1315.2,818.7 1316.2,811.0 1317.2,822.9 1318.2,817.8 1319.2,830.2 1320.2,825.5 1321.2,838.2 1322.2,831.5 1323.2,843.3 1324.2,835.7 1325.2,846.4 1326.2,839.7 1327.2,849.9 1328.2,842.8 1329.2,853.2 1330.2,845.8 1331.2,855.9 1332.2,848.7 1333.2,859.2 1334.2,852.0 1335.2,862.4 1336.2,856.3 1337.2,870.4 1338.2,866.1 1339.2,879.3 1340.2,874.4 1341.2,889.8 1342.2,883.9 1343.2,899.5 1344.2,893.3 1345.2,904.6 1346.2,893.4 1347.2,902.0 1348.2,890.8 1349.2,898.9 1350.2,887.7 1351.2,899.5 1352.2,891.2 1353.2,902.2 1354.2,893.2 1355.2,903.8 1356.2,892.4 1357.2,900.8 1358.2,889.8 1359.2,898.2 1360.2,884.1 1361.2,889.7 1362.2,875.4 1363.2,881.2 1364.2,868.7 1365.2,878.9 1366.2,867.8 1367.2,877.7 1368.2,867.3 1369.2,877.1 1370.2,866.9 1371.2,876.8 1372.2,865.1 1373.2,872.9 1374.2,859.4 1375.2,866.1 1376.2,856.2 1377.2,871.4 1378.2,866.2 1379.2,881.5 1380.2,877.3 1381.2,892.1 1382.2,887.5 1383.2,902.0 1384.2,889.3 1385.2,897.8 1386.2,885.3 1387.2,893.6 1388.2,883.5 1389.2,897.1 1390.2,888.7 1391.2,902.1 1392.2,896.4 1393.2,911.2 1394.2,905.7 1395.2,920.9 1396.2,914.4 1397.2,925.9 1398.2,917.7 1399.2,929.4 1400.2,920.8 1401.2,934.5 1402.2,927.4 1403.2,941.6 1404.2,934.1 1405.2,946.0 1406.2,938.3 1407.2,949.9 1408.2,941.7 1409.2,952.4 1410.2,943.2 1411.2,953.2 1412.2,943.4 1413.2,949.3 1414.2,934.4 1415.2,941.6 1416.2,926.1 1417.2,930.7 1418.2,915.7 1419.2,920.5 1420.2,905.4 1421.2,910.5 1422.2,898.1 1423.2,906.4 1424.2,894.0 1425.2,901.3 1426.2,889.7 1427.2,897.9 1428.2,884.8 1429.2,894.0 1430.2,873.4 1431.2,873.9 1432.2,858.5 1433.2,863.0 1434.2,848.5 1435.2,854.8 1436.2,841.3 1437.2,847.5 1438.2,835.2 1439.2,844.3 1440.2,834.5 1441.2,846.7 1442.2,840.8 1443.2,854.8 1444.2,847.3 1445.2,858.5 1446.2,849.9 1447.2,861.6 1448.2,852.5 1449.2,863.4 1450.2,853.8 1451.2,864.5 1452.2,853.8 1453.2,864.1 1454.2,854.3 1455.2,865.5 1456.2,857.2 1457.2,868.7 1458.2,860.4 1459.2,871.3 1460.2,861.6 1461.2,870.7 1462.2,858.9 1463.2,868.4 1464.2,856.8 1465.2,865.4 1466.2,854.1 1467.2,866.2 1468.2,856.4 1469.2,867.8 1470.2,857.7 1471.2,870.3 1472.2,860.3 1473.2,870.9 1474.2,861.6 1475.2,871.6 1476.2,862.0 1477.2,872.6 1478.2,862.9 1479.2,873.6 1480.2,864.9 1481.2,876.3 1482.2,867.4 1483.2,878.2 1484.2,869.1 1485.2,880.5 1486.2,870.3 1487.2,880.4 1488.2,869.8 1489.2,878.8 1490.2,868.4 1491.2,878.1 1492.2,867.0 1493.2,876.7 1494.2,865.8 1495.2,877.4 1496.2,870.6 1497.2,883.3 1498.2,876.8 1499.2,889.0 1500.2,880.7 1501.2,892.9 1502.2,884.6 1503.2,896.9 1504.2,888.7 1505.2,900.8 1506.2,892.8 1507.2,904.5 1508.2,896.0 1509.2,907.8 1510.2,899.0 1511.2,910.7 1512.2,902.0 1513.2,913.5 1514.2,904.1 1515.2,916.8 1516.2,910.0 1517.2,926.0 1518.2,919.5 1519.2,931.5 1520.2,920.8 1521.2,931.8 1522.2,922.6 1523.2,937.8 1524.2,931.9 1525.2,946.6 1526.2,941.2 1527.2,956.0 1528.2,949.0 1529.2,963.3 1530.2,955.8 1531.2,967.3 1532.2,959.5 1533.2,971.8 1534.2,963.6 1535.2,975.0 1536.2,966.1 1537.2,977.1 1538.2,969.0 1539.2,980.2 1540.2,971.6 1541.2,985.7 1542.2,975.8 1543.2,990.2 1544.2,981.4 1545.2,994.6 1546.2,983.7 1547.2,997.1 1548.2,986.6 1549.2,1000.3 1550.2,986.3 1551.2,997.2 1552.2,983.3 1553.2,993.1 1554.2,980.5 1555.2,994.4 1556.2,982.6 1557.2,995.9 1558.2,984.3 1559.2,999.7 1560.2,989.6 1561.2,1005.4 1562.2,993.9 1563.2,1004.4 1564.2,989.8 1565.2,999.8 1566.2,986.7 1567.2,996.2 1568.2,982.4 1569.2,991.7 1570.2,977.5 1571.2,987.9 1572.2,975.3 1573.2,985.7 1574.2,973.1 1575.2,983.3 1576.2,971.2 1577.2,981.4 1578.2,968.5 1579.2,980.0 1580.2,966.8 1581.2,977.9 1582.2,963.9 1583.2,973.3 1584.2,958.3 1585.2,968.9 1586.2,954.9 1587.2,965.2 1588.2,953.3 1589.2,964.2 1590.2,951.3 1591.2,962.3 1592.2,949.6 1593.2,960.1 1594.2,947.4 1595.2,957.9 1596.2,944.6 1597.2,956.1 1598.2,942.2 1599.2,954.4 1600.2,941.0 1601.2,952.5 1602.2,940.5 1603.2,952.2 1604.2,939.1 1605.2,951.4 1606.2,938.3 1607.2,949.7 1608.2,937.6 1609.2,948.7 1610.2,936.8 1611.2,947.3 1612.2,934.3 1613.2,947.2 1614.2,935.3 1615.2,946.8 1616.2,935.9 1617.2,948.1 1618.2,936.3 1619.2,948.5 1620.2,936.8 1621.2,953.4 1622.2,943.2 1623.2,958.4 1624.2,949.8 1625.2,961.4 1626.2,950.7 1627.2,963.5 1628.2,951.5 1629.2,963.2 1630.2,953.1 1631.2,965.4 1632.2,954.8 1633.2,968.0 1634.2,957.7 1635.2,970.5 1636.2,959.0 1637.2,972.0 1638.2,959.8 1639.2,971.8 1640.2,959.4 1641.2,972.4 1642.2,960.1 1643.2,972.2 1644.2,961.5 1645.2,974.0 1646.2,962.6 1647.2,974.5 1648.2,963.5 1649.2,975.4 1650.2,964.3 1651.2,976.4 1652.2,965.5 1653.2,977.3 1654.2,963.0 1655.2,969.6 1656.2,953.8 1657.2,960.8 1658.2,945.1 1659.2,952.8 1660.2,937.4 1661.2,945.3 1662.2,931.6 1663.2,944.1 1664.2,933.4 1665.2,945.4 1666.2,934.8 1667.2,944.8 1668.2,931.1 1669.2,940.5 1670.2,925.4 1671.2,936.5 1672.2,924.1 1673.2,937.3 1674.2,924.6 1675.2,936.7 1676.2,925.9 1677.2,935.1 1678.2,919.6 1679.2,928.7 1680.2,914.1 1681.2,924.1 1682.2,909.7 1683.2,920.3 1684.2,903.6 1685.2,915.2 1686.2,898.0 1687.2,907.7 1688.2,893.2 1689.2,903.8 1690.2,891.3 1691.2,901.9 1692.2,890.1 1693.2,900.5 1694.2,887.9 1695.2,899.9 1696.2,887.2 1697.2,898.9 1698.2,886.4 1699.2,897.4 1700.2,886.1 1701.2,896.8 1702.2,884.6 1703.2,897.0 1704.2,885.7 1705.2,898.1 1706.2,884.8 1707.2,896.6 1708.2,882.8 1709.2,894.0 1710.2,880.1 1711.2,891.9 1712.2,880.9 1713.2,893.3 1714.2,882.7 1715.2,893.5 1716.2,879.8 1717.2,888.7 1718.2,875.1 1719.2,884.5 1720.2,869.5 1721.2,877.9 1722.2,862.3 1723.2,871.8 1724.2,856.5 1725.2,866.4 1726.2,851.8 1727.2,860.4 1728.2,845.1 1729.2,853.4 1730.2,838.1 1731.2,848.9 1732.2,836.9 1733.2,847.6 1734.2,835.7 1735.2,848.2 1736.2,836.9 1737.2,849.0 1738.2,838.1 1739.2,850.2 1740.2,841.9 1741.2,851.0 1742.2,844.3 1743.2,850.7 1744.2,842.1 1745.2,848.4 1746.2,840.1 1747.2,852.0 1748.2,847.8 1749.2,871.5 1750.2,886.5 1751.2,899.3 1752.2,890.3 1753.2,899.4 1754.2,889.5 1755.2,897.4 1756.2,888.9 1756.5,896.3"/>
<polyline fill="none" stroke="#34a853" stroke-width="6" stroke-linejoin="miter" stroke-miterlimit="4" points="144.2,323.5 145.9,323.5 147.6,323.5 149.3,323.5 151.0,323.5 152.7,323.5 154.4,323.5 156.1,323.5 157.8,323.5 159.5,289.0 161.2,285.1 162.9,284.8 164.6,282.0 166.3,280.0 168.0,278.1 169.7,275.2 171.4,272.7 173.1,275.8 174.8,274.7 176.5,275.1 178.2,273.5 179.9,267.7 181.6,267.4 183.3,264.7 185.0,269.1 186.7,265.7 188.4,265.9 190.1,265.6 191.8,267.0 193.5,271.1 195.2,274.9 196.9,279.2 198.6,276.9 200.3,283.8 202.0,282.9 203.7,285.9 205.4,288.6 207.1,290.7 208.8,295.3 210.5,298.5 212.2,297.5 213.9,295.7 215.6,298.6 217.3,297.0 219.0,296.0 220.7,292.2 222.4,285.6 224.1,287.3 225.8,287.7 227.5,290.6 229.2,287.8 230.9,290.5 232.6,288.9 234.3,285.1 236.0,287.6 237.7,287.5 239.4,285.8 241.1,279.6 242.8,283.4 244.5,280.8 246.2,276.9 247.9,280.9 249.6,281.1 251.3,288.0 253.0,299.7 254.7,305.7 256.4,306.3 258.1,318.3 259.8,321.2 261.5,308.5 263.2,306.6 264.9,304.6 266.6,313.5 268.3,306.3 270.0,307.1 271.7,312.1 273.4,314.5 275.1,312.7 276.8,318.1 278.5,315.8 280.2,317.1 281.9,319.4 283.6,318.6 285.3,322.6 287.0,329.7 288.7,322.5 290.4,326.6 292.1,328.7 293.8,327.1 295.5,329.0 297.2,325.4 298.9,329.4 300.6,331.3 302.3,335.1 304.0,335.9 305.7,333.1 307.4,332.9 309.1,341.5 310.8,340.0 312.5,333.6 314.2,338.5 315.9,337.9 317.6,339.0 319.3,336.5 321.0,340.2 322.7,340.3 324.4,341.9 326.1,346.1 327.8,345.0 329.5,342.3 331.2,341.1 332.9,343.7 334.6,347.5 336.3,346.5 338.0,342.0 339.7,346.8 341.4,346.0 343.1,344.4 344.8,347.9 346.5,345.8 348.2,342.2 349.9,343.2 351.6,343.9 353.3,347.2 355.0,341.6 356.7,345.5 358.4,345.5 360.1,345.9 361.8,341.7 363.5,346.2 365.2,344.3 366.9,343.1 368.6,338.2 370.3,341.4 372.0,339.9 373.7,342.1 375.4,339.6 377.1,343.8 378.8,345.2 380.5,345.2 382.2,347.4 383.9,346.2 385.6,346.7 387.3,349.2 389.0,349.5 390.7,357.8 392.4,358.4 394.1,357.9 395.8,358.5 397.5,355.3 399.2,359.2 400.9,355.8 402.6,358.9 404.3,360.5 406.0,362.1 407.7,366.6 409.4,363.2 411.1,370.9 412.8,363.1 414.5,366.2 416.2,359.6 417.9,366.0 419.6,360.3 421.3,363.9 423.0,363.3 424.7,365.3 426.4,364.6 428.1,363.8 429.8,362.2 431.5,367.6 433.2,360.8 434.9,361.3 436.6,359.3 438.3,360.1 440.0,357.6 441.7,360.2 443.4,363.7 445.1,362.0 446.8,366.9 448.5,366.6 450.2,374.4 451.9,373.3 453.6,382.5 455.3,383.5 457.0,386.1 458.7,393.5 460.4,398.5 462.1,402.9 463.8,402.6 465.5,401.3 467.2,395.9 468.9,399.5 470.6,394.4 472.3,393.3 474.0,395.8 475.7,391.7 477.4,398.2 479.1,401.8 480.8,394.9 482.5,389.9 484.2,391.5 485.9,385.7 487.6,386.2 489.3,389.4 491.0,384.8 492.7,393.0 494.4,391.6 496.1,395.9 497.8,399.7 499.5,395.4 501.2,397.0 502.9,401.0 504.6,406.5 506.3,410.1 508.0,414.0 509.7,415.3 511.4,418.4 513.1,425.1 514.8,423.5 516.5,425.3 518.2,431.0 519.9,427.6 521.6,427.4 523.3,432.9 525.0,432.8 526.7,430.0 528.4,436.9 530.1,443.7 531.8,442.6 533.5,433.7 535.2,434.4 536.9,434.5 538.6,433.4 540.3,427.9 542.0,435.2 543.7,429.9 545.4,424.7 547.1,417.2 548.8,418.5 550.5,421.6 552.2,422.9 553.9,425.8 555.6,427.1 557.3,433.7 559.0,435.7 560.7,434.1 562.4,438.5 564.1,444.1 565.8,444.5 567.5,451.6 569.2,448.6 570.9,452.7 572.6,455.7 574.3,450.8 576.0,456.0 577.7,451.1 579.4,448.7 581.1,447.3 582.8,443.1 584.5,442.3 586.2,455.0 587.9,456.4 589.6,462.9 591.3,473.2 593.0,475.5 594.7,467.6 596.4,467.4 598.1,467.3 599.8,467.9 601.5,464.4 603.2,466.4 604.9,461.3 606.6,460.1 608.3,456.8 610.0,458.8 611.7,459.3 613.4,456.8 615.1,456.7 616.8,454.7 618.5,455.3 620.2,455.3 621.9,455.8 623.6,458.6 625.3,457.8 627.0,459.3 628.7,460.4 630.4,457.1 632.1,460.9 633.8,457.9 635.5,454.8 637.2,456.2 638.9,454.5 640.6,448.4 642.3,453.8 644.0,447.0 645.7,448.7 647.4,444.0 649.1,446.6 650.8,446.7 652.5,444.2 654.2,447.1 655.9,448.1 657.6,450.4 659.3,448.5 661.0,453.7 662.7,452.9 664.4,452.7 666.1,450.7 667.8,456.1 669.5,456.7 671.2,464.3 672.9,458.2 674.6,465.8 676.3,465.1 678.0,461.6 679.7,459.5 681.4,458.6 683.1,453.9 684.8,460.0 686.5,456.0 688.2,454.8 689.9,456.1 691.6,450.9 693.3,451.7 695.0,450.8 696.7,448.8 698.4,452.3 700.1,453.3 701.8,448.9 703.5,452.0 705.2,457.3 706.9,459.3 708.6,460.1 710.3,460.2 712.0,458.3 713.7,457.4 715.4,457.9 717.1,457.4 718.8,458.4 720.5,453.1 722.2,453.6 723.9,454.5 725.6,456.2 727.3,451.9 729.0,457.8 730.7,459.3 732.4,455.5 734.1,460.6 735.8,454.1 737.5,457.9 739.2,454.0 740.9,459.3 742.6,458.2 744.3,457.1 746.0,456.8 747.7,457.8 749.4,463.4 751.1,463.4 752.8,468.0 754.5,465.1 756.2,471.5 757.9,472.4 759.6,463.8 761.3,463.3 763.0,461.9 764.7,458.8 766.4,453.5 768.1,457.1 769.8,454.3 771.5,455.9 773.2,451.3 774.9,451.9 776.6,457.0 778.3,452.7 780.0,457.4 781.7,461.7 783.4,461.5 785.1,458.2 786.8,467.4 788.5,462.7 790.2,466.5 791.9,465.7 793.6,462.0 795.3,463.2 797.0,456.1 798.7,460.2 800.4,459.0 802.1,456.5 803.8,456.2 805.5,457.0 807.2,455.3 808.9,450.5 810.6,452.2 812.3,451.7 814.0,448.6 815.7,449.0 817.4,443.0 819.1,445.3 820.8,450.9 822.5,448.0 824.2,454.4 825.9,456.4 827.6,452.9 829.3,453.8 831.0,457.2 832.7,459.4 834.4,462.0 836.1,461.0 837.8,462.8 839.5,461.7 841.2,465.5 842.9,464.3 844.6,469.3 846.3,469.7 848.0,465.6 849.7,469.6 851.4,465.8 853.1,469.6 854.8,464.5 856.5,475.0 858.2,480.1 859.9,487.5 861.6,489.1 863.3,493.8 865.0,501.3 866.7,515.2 868.4,521.8 870.1,525.6 871.8,531.5 873.5,538.9 875.2,549.0 876.9,555.1 878.6,567.1 880.3,569.7 882.0,577.4 883.7,581.8 885.4,587.4 887.1,592.8 888.8,588.3 890.5,594.0 892.2,595.3 893.9,599.4 895.6,602.4 897.3,606.5 899.0,609.4 900.7,616.0 902.4,614.8 904.1,617.4 905.8,620.6 907.5,625.0 909.2,628.6 910.9,629.8 912.6,632.5 914.3,638.5 916.0,641.1 917.7,647.9 919.4,650.7 921.1,646.2 922.8,645.8 924.5,644.5 926.2,648.5 927.9,651.2 929.6,650.9 931.3,652.8 933.0,657.4 934.7,651.8 936.4,649.6 938.1,649.4 939.8,655.9 941.5,658.6 943.2,660.0 944.9,658.9 946.6,664.3 948.3,657.4 950.0,657.4 951.7,654.5 953.4,659.1 955.1,657.0 956.8,655.8 958.5,652.2 960.2,654.2 961.9,653.6 963.6,655.5 965.3,659.8 967.0,663.4 968.7,665.1 970.4,664.9 972.1,667.7 973.8,667.2 975.5,666.4 977.2,668.6 978.9,668.5 980.6,673.2 982.3,676.7 984.0,680.2 985.7,680.7 987.4,682.3 989.1,679.7 990.8,674.7 992.5,676.0 994.2,675.6 995.9,676.9 997.6,682.0 999.3,683.0 1001.0,687.9 1002.7,683.4 1004.4,688.6 1006.1,683.9 1007.8,679.8 1009.5,677.1 1011.2,670.0 1012.9,661.4 1014.6,660.8 1016.3,654.2 1018.0,655.5 1019.7,650.0 1021.4,650.4 1023.1,648.9 1024.8,645.0 1026.5,648.8 1028.2,652.4 1029.9,648.2 1031.6,651.2 1033.3,655.8 1035.0,660.1 1036.7,659.0 1038.4,663.7 1040.1,666.3 1041.8,669.9 1043.5,668.6 1045.2,677.0 1046.9,678.8 1048.6,675.0 1050.3,678.7 1052.0,683.4 1053.7,684.1 1055.4,686.6 1057.1,689.9 1058.8,689.6 1060.5,690.9 1062.2,693.5 1063.9,693.4 1065.6,695.9 1067.3,698.8 1069.0,701.3 1070.7,701.7 1072.4,707.7 1074.1,705.5 1075.8,710.2 1077.5,712.1 1079.2,708.8 1080.9,709.8 1082.6,707.2 1084.3,706.8 1086.0,707.9 1087.7,707.6 1089.4,706.5 1091.1,706.2 1092.8,704.7 1094.5,703.1 1096.2,701.2 1097.9,701.1 1099.6,699.1 1101.3,696.7 1103.0,692.4 1104.7,694.5 1106.4,692.0 1108.1,688.1 1109.8,684.5 1111.5,685.1 1113.2,682.7 1114.9,683.3 1116.6,685.4 1118.3,683.8 1120.0,686.3 1121.7,686.8 1123.4,690.5 1125.1,691.5 1126.8,689.1 1128.5,685.6 1130.2,683.2 1131.9,682.9 1133.6,683.2 1135.3,679.5 1137.0,678.7 1138.7,680.6 1140.4,681.1 1142.1,681.1 1143.8,685.0 1145.5,684.1 1147.2,687.2 1148.9,686.7 1150.6,685.7 1152.3,687.4 1154.0,700.3 1155.7,703.3 1157.4,704.9 1159.1,710.7 1160.8,714.1 1162.5,713.9 1164.2,717.2 1165.9,716.0 1167.6,716.5 1169.3,717.3 1171.0,726.2 1172.7,725.2 1174.4,731.8 1176.1,738.2 1177.8,744.6 1179.5,745.6 1181.2,752.4 1182.9,755.0 1184.6,762.9 1186.3,762.3 1188.0,762.0 1189.7,767.0 1191.4,764.7 1193.1,766.0 1194.8,763.8 1196.5,761.7 1198.2,762.0 1199.9,758.0 1201.6,755.5 1203.3,756.0 1205.0,757.8 1206.7,755.3 1208.4,757.3 1210.1,756.1 1211.8,754.5 1213.5,754.3 1215.2,751.2 1216.9,749.2 1218.6,746.3 1220.3,744.5 1222.0,744.8 1223.7,750.6 1225.4,755.3 1227.1,758.1 1228.8,759.3 1230.5,758.4 1232.2,758.9 1233.9,757.1 1235.6,757.9 1237.3,757.1 1239.0,757.8 1240.7,753.9 1242.4,758.5 1244.1,760.0 1245.8,757.2 1247.5,762.7 1249.2,760.1 1250.9,758.5 1252.6,761.5 1254.3,756.5 1256.0,762.1 1257.7,755.7 1259.4,758.2 1261.1,759.1 1262.8,757.7 1264.5,756.7 1266.2,755.2 1267.9,757.8 1269.6,760.4 1271.3,763.7 1273.0,759.8 1274.7,767.0 1276.4,766.2 1278.1,769.6 1279.8,773.1 1281.5,774.6 1283.2,779.5 1284.9,779.5 1286.6,787.3 1288.3,788.6 1290.0,794.1 1291.7,799.1 1293.4,798.6 1295.1,800.9 1296.8,803.1 1298.5,797.0 1300.2,797.4 1301.9,802.8 1303.6,804.0 1305.3,798.2 1307.0,802.3 1308.7,803.8 1310.4,808.0 1312.1,809.8 1313.8,810.5 1315.5,813.9 1317.2,820.8 1318.9,823.1 1320.6,831.3 1322.3,838.1 1324.0,843.2 1325.7,843.6 1327.4,846.2 1329.1,846.8 1330.8,851.6 1332.5,856.0 1334.2,856.9 1335.9,862.0 1337.6,866.7 1339.3,876.8 1341.0,882.7 1342.7,889.7 1344.4,898.0 1346.1,901.3 1347.8,897.5 1349.5,893.4 1351.2,894.1 1352.9,899.0 1354.6,898.3 1356.3,900.0 1358.0,895.7 1359.7,890.0 1361.4,883.3 1363.1,874.0 1364.8,871.7 1366.5,870.8 1368.2,870.7 1369.9,871.1 1371.6,870.1 1373.3,865.8 1375.0,862.4 1376.7,860.9 1378.4,866.8 1380.1,885.5 1381.8,890.7 1383.5,896.3 1385.2,895.2 1386.9,891.8 1388.6,893.6 1390.3,896.6 1392.0,902.0 1393.7,909.4 1395.4,916.1 1397.1,920.4 1398.8,917.7 1400.5,930.3 1402.2,932.7 1403.9,936.0 1405.6,944.6 1407.3,943.5 1409.0,947.9 1410.7,946.0 1412.4,944.5 1414.1,943.2 1415.8,933.1 1417.5,920.2 1419.2,917.1 1420.9,909.3 1422.6,901.2 1424.3,900.1 1426.0,898.1 1427.7,894.4 1429.4,889.8 1431.1,870.6 1432.8,864.3 1434.5,852.8 1436.2,845.6 1437.9,839.6 1439.6,845.3 1441.3,839.3 1443.0,849.3 1444.7,848.2 1446.4,854.8 1448.1,856.7 1449.8,858.3 1451.5,860.6 1453.2,862.6 1454.9,860.5 1456.6,860.6 1458.3,863.9 1460.0,867.5 1461.7,863.4 1463.4,862.8 1465.1,862.1 1466.8,860.3 1468.5,866.4 1470.2,859.1 1471.9,865.2 1473.6,868.6 1475.3,864.1 1477.0,863.4 1478.7,873.4 1480.4,872.3 1482.1,873.2 1483.8,876.7 1485.5,873.3 1487.2,872.1 1488.9,877.8 1490.6,873.4 1492.3,868.0 1494.0,870.4 1495.7,877.4 1497.4,876.6 1499.1,879.8 1500.8,881.5 1502.5,890.1 1504.2,893.6 1505.9,895.4 1507.6,898.7 1509.3,902.5 1511.0,903.6 1512.7,905.8 1514.4,911.5 1516.1,915.4 1517.8,924.1 1519.5,921.7 1521.2,924.4 1522.9,933.5 1524.6,939.2 1526.3,948.8 1528.0,949.7 1529.7,961.1 1531.4,961.5 1533.1,966.3 1534.8,967.5 1536.5,969.1 1538.2,971.1 1539.9,976.1 1541.6,983.5 1543.3,982.0 1545.0,986.8 1546.7,988.1 1548.4,991.0 1550.1,995.0 1551.8,988.8 1553.5,984.3 1555.2,989.4 1556.9,989.9 1558.6,992.0 1560.3,997.0 1562.0,998.5 1563.7,999.3 1565.4,992.2 1567.1,991.0 1568.8,986.7 1570.5,985.6 1572.2,980.4 1573.9,981.3 1575.6,972.8 1577.3,976.1 1579.0,974.5 1580.7,972.6 1582.4,963.3 1584.1,966.7 1585.8,959.0 1587.5,957.4 1589.2,962.0 1590.9,955.6 1592.6,957.2 1594.3,948.0 1596.0,952.7 1597.7,949.5 1599.4,948.3 1601.1,944.1 1602.8,946.8 1604.5,944.5 1606.2,947.9 1607.9,941.9 1609.6,938.1 1611.3,944.5 1613.0,937.9 1614.7,940.5 1616.4,943.7 1618.1,946.7 1619.8,944.6 1621.5,949.8 1623.2,953.0 1624.9,956.0 1626.6,956.3 1628.3,958.1 1630.0,955.8 1631.7,961.0 1633.4,965.7 1635.1,965.0 1636.8,964.6 1638.5,967.4 1640.2,963.4 1641.9,965.6 1643.6,973.0 1645.3,969.9 1647.0,970.6 1648.7,969.0 1650.4,968.3 1652.1,968.2 1653.8,970.3 1655.5,966.2 1657.2,955.0 1658.9,950.4 1660.6,940.6 1662.3,937.7 1664.0,939.9 1665.7,946.7 1667.4,938.9 1669.1,932.6 1670.8,934.1 1672.5,930.1 1674.2,932.2 1675.9,929.5 1677.6,930.2 1679.3,920.8 1681.0,919.3 1682.7,913.1 1684.4,908.1 1686.1,906.7 1687.8,901.0 1689.5,892.2 1691.2,898.3 1692.9,897.3 1694.6,894.4 1696.3,893.9 1698.0,893.1 1699.7,892.6 1701.4,890.5 1703.1,894.2 1704.8,894.8 1706.5,889.1 1708.2,889.0 1709.9,883.8 1711.6,885.5 1713.3,890.4 1715.0,888.0 1716.7,884.8 1718.4,879.5 1720.1,882.2 1721.8,873.0 1723.5,865.5 1725.2,860.7 1726.9,860.3 1728.6,852.9 1730.3,844.6 1732.0,842.0 1733.7,838.1 1735.4,845.6 1737.1,847.7 1738.8,850.6 1740.5,846.6 1742.2,849.7 1743.9,843.5 1745.6,845.1 1747.3,847.5 1749.0,861.1 1750.7,893.8 1752.4,893.7 1754.1,893.5 1755.8,893.7 1756.5,891.3"/>
<polygon fill="#34a853" points="220.0,296 225.0,296 222.5,323.5"/>
<polygon fill="#34a853" points="766.7,460 771.3,460 769.0,480.5"/>
<polygon fill="#34a853" points="1139.3,684 1143.9,684 1141.6,722"/>
<polygon fill="#34a853" points="1217.8,748 1222.2,748 1220.0,767"/>
<polygon fill="#34a853" points="1651.2,970 1655.6,970 1653.4,986"/>
</svg>
</body></html>
